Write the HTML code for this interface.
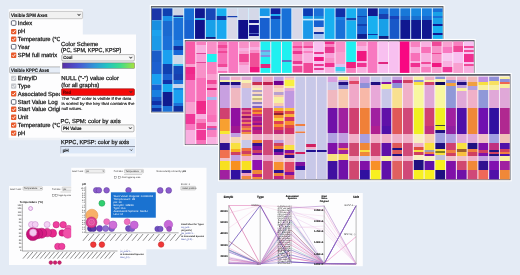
<!DOCTYPE html><html><head><meta charset="utf-8"><style>html,body{margin:0;padding:0;background:#e4ebf5;width:520px;height:275px;overflow:hidden;}svg{display:block;will-change:transform}</style></head><body>
<svg width="520" height="275" viewBox="0 0 520 275" font-family="'Liberation Sans', sans-serif" text-rendering="geometricPrecision">
<rect x="0" y="0" width="520" height="275" fill="#e4ebf5"/>
<rect x="149.80" y="4.90" width="294.80" height="108.70" fill="#ffffff"/>
<rect x="150.95" y="6.00" width="292.50" height="106.45" fill="#62666f"/>
<rect x="151.80" y="7.45" width="290.80" height="104.15" fill="#d4eefc"/>
<rect x="151.80" y="8.35" width="9.81" height="11.95" fill="#1a35a8"/>
<rect x="151.80" y="20.30" width="9.81" height="9.70" fill="#1a8fe0"/>
<rect x="151.80" y="30.00" width="9.81" height="6.00" fill="#1aa2ee"/>
<rect x="151.80" y="36.00" width="9.81" height="14.50" fill="#1a9ae8"/>
<rect x="151.80" y="50.50" width="9.81" height="11.50" fill="#1a5cc8"/>
<rect x="151.80" y="62.00" width="9.81" height="12.00" fill="#1c60d0"/>
<rect x="151.80" y="74.00" width="9.81" height="10.50" fill="#1aa0f0"/>
<rect x="151.80" y="84.50" width="9.81" height="5.50" fill="#1860d0"/>
<rect x="151.80" y="90.00" width="9.81" height="7.00" fill="#1a80e0"/>
<rect x="151.80" y="97.00" width="9.81" height="4.00" fill="#1858c8"/>
<rect x="151.80" y="101.00" width="9.81" height="4.00" fill="#1030a8"/>
<rect x="151.80" y="105.00" width="9.81" height="3.00" fill="#2070d8"/>
<rect x="151.80" y="108.00" width="9.81" height="3.60" fill="#1030a0"/>
<rect x="162.61" y="8.35" width="9.81" height="7.65" fill="#1040b0"/>
<rect x="162.61" y="16.00" width="9.81" height="5.00" fill="#1a90e8"/>
<rect x="162.61" y="21.00" width="9.81" height="15.00" fill="#1a6ad0"/>
<rect x="162.61" y="36.00" width="9.81" height="14.00" fill="#1a70d8"/>
<rect x="162.61" y="50.00" width="9.81" height="14.00" fill="#1aa0f0"/>
<rect x="162.61" y="64.00" width="9.81" height="10.00" fill="#1040b0"/>
<rect x="162.61" y="74.00" width="9.81" height="6.00" fill="#1a60d0"/>
<rect x="162.61" y="80.00" width="9.81" height="4.00" fill="#1030a8"/>
<rect x="162.61" y="84.00" width="9.81" height="8.00" fill="#18a8f0"/>
<rect x="162.61" y="92.00" width="9.81" height="14.00" fill="#101c90"/>
<rect x="162.61" y="106.00" width="9.81" height="5.60" fill="#1a70d8"/>
<rect x="173.41" y="8.35" width="9.81" height="7.05" fill="#d0d4e4"/>
<rect x="173.41" y="15.40" width="9.81" height="1.60" fill="#102a90"/>
<rect x="173.41" y="17.00" width="9.81" height="1.00" fill="#40c0f0"/>
<rect x="173.41" y="18.00" width="9.81" height="22.00" fill="#1a70d8"/>
<rect x="173.41" y="40.00" width="9.81" height="6.00" fill="#2080e0"/>
<rect x="173.41" y="46.00" width="9.81" height="4.00" fill="#1030a0"/>
<rect x="173.41" y="50.00" width="9.81" height="5.00" fill="#1868d8"/>
<rect x="173.41" y="55.00" width="9.81" height="9.00" fill="#d0d8e8"/>
<rect x="173.41" y="64.00" width="9.81" height="2.00" fill="#40c0f0"/>
<rect x="173.41" y="66.00" width="9.81" height="8.00" fill="#1448b8"/>
<rect x="173.41" y="74.00" width="9.81" height="6.00" fill="#1840b0"/>
<rect x="173.41" y="80.00" width="9.81" height="4.00" fill="#1a70d8"/>
<rect x="173.41" y="84.00" width="9.81" height="4.00" fill="#c8d4ec"/>
<rect x="173.41" y="88.00" width="9.81" height="2.00" fill="#1a80e0"/>
<rect x="173.41" y="90.00" width="9.81" height="13.00" fill="#1aa0f0"/>
<rect x="173.41" y="103.00" width="9.81" height="3.00" fill="#1a70d8"/>
<rect x="173.41" y="106.00" width="9.81" height="5.60" fill="#1030a0"/>
<rect x="184.22" y="8.35" width="9.81" height="11.65" fill="#1870d8"/>
<rect x="184.22" y="20.00" width="9.81" height="91.60" fill="#1862d0"/>
<rect x="195.03" y="8.35" width="9.81" height="9.95" fill="#101890"/>
<rect x="195.03" y="18.30" width="9.81" height="1.70" fill="#20b8f0"/>
<rect x="195.03" y="20.00" width="9.81" height="91.60" fill="#10128a"/>
<rect x="205.84" y="8.35" width="9.81" height="11.65" fill="#1848b8"/>
<rect x="205.84" y="20.00" width="9.81" height="17.00" fill="#18a0e8"/>
<rect x="205.84" y="37.00" width="9.81" height="74.60" fill="#102080"/>
<rect x="216.64" y="8.35" width="9.81" height="7.65" fill="#18b0f0"/>
<rect x="216.64" y="16.00" width="9.81" height="4.00" fill="#1030a0"/>
<rect x="216.64" y="20.00" width="9.81" height="91.60" fill="#18a8f0"/>
<rect x="227.45" y="8.35" width="9.81" height="7.65" fill="#d4d8e8"/>
<rect x="227.45" y="16.00" width="9.81" height="1.50" fill="#1840b0"/>
<rect x="227.45" y="17.50" width="9.81" height="94.10" fill="#d8d8e8"/>
<rect x="238.26" y="8.35" width="9.81" height="11.65" fill="#d4d8e8"/>
<rect x="238.26" y="20.00" width="9.81" height="91.60" fill="#10108a"/>
<rect x="249.07" y="8.35" width="9.81" height="11.65" fill="#d4d8e8"/>
<rect x="249.07" y="20.00" width="9.81" height="3.00" fill="#10108a"/>
<rect x="249.07" y="23.00" width="9.81" height="2.00" fill="#e0e0f0"/>
<rect x="249.07" y="25.00" width="9.81" height="8.00" fill="#10108a"/>
<rect x="249.07" y="33.00" width="9.81" height="1.00" fill="#5060c0"/>
<rect x="249.07" y="34.00" width="9.81" height="2.00" fill="#10108a"/>
<rect x="249.07" y="36.00" width="9.81" height="75.60" fill="#d4d8e8"/>
<rect x="259.87" y="8.35" width="9.81" height="7.65" fill="#1898e8"/>
<rect x="259.87" y="16.00" width="9.81" height="2.00" fill="#d8e8f8"/>
<rect x="259.87" y="18.00" width="9.81" height="93.60" fill="#1860d0"/>
<rect x="270.68" y="8.35" width="9.81" height="5.65" fill="#1020a0"/>
<rect x="270.68" y="14.00" width="9.81" height="2.00" fill="#20b0f0"/>
<rect x="270.68" y="16.00" width="9.81" height="3.00" fill="#1030a8"/>
<rect x="270.68" y="19.00" width="9.81" height="92.60" fill="#1870d8"/>
<rect x="281.49" y="8.35" width="9.81" height="103.25" fill="#1870d8"/>
<rect x="292.30" y="8.35" width="9.81" height="103.25" fill="#d8d8e8"/>
<rect x="303.10" y="8.35" width="9.81" height="7.65" fill="#0c3cb4"/>
<rect x="303.10" y="16.00" width="9.81" height="2.90" fill="#18a0e8"/>
<rect x="303.10" y="18.90" width="9.81" height="1.50" fill="#c8ecfa"/>
<rect x="303.10" y="20.40" width="9.81" height="91.20" fill="#1a98e8"/>
<rect x="313.91" y="8.35" width="9.81" height="7.65" fill="#1a70d8"/>
<rect x="313.91" y="16.00" width="9.81" height="2.90" fill="#1890e0"/>
<rect x="313.91" y="18.90" width="9.81" height="1.50" fill="#c8ecfa"/>
<rect x="313.91" y="20.40" width="9.81" height="6.60" fill="#1860d0"/>
<rect x="313.91" y="27.00" width="9.81" height="5.00" fill="#e0d8e8"/>
<rect x="313.91" y="32.00" width="9.81" height="2.00" fill="#1030a0"/>
<rect x="313.91" y="34.00" width="9.81" height="77.60" fill="#a0c0f0"/>
<rect x="324.72" y="8.35" width="9.81" height="103.25" fill="#18b0f0"/>
<rect x="335.53" y="8.35" width="9.81" height="8.65" fill="#1030a8"/>
<rect x="335.53" y="17.00" width="9.81" height="3.00" fill="#1880e0"/>
<rect x="335.53" y="20.00" width="9.81" height="91.60" fill="#1870d8"/>
<rect x="346.33" y="8.35" width="9.81" height="9.65" fill="#18b0f0"/>
<rect x="346.33" y="18.00" width="9.81" height="2.50" fill="#1840a8"/>
<rect x="346.33" y="20.50" width="9.81" height="91.10" fill="#18b0f0"/>
<rect x="357.14" y="8.35" width="9.81" height="7.65" fill="#1878d8"/>
<rect x="357.14" y="16.00" width="9.81" height="1.00" fill="#1040b0"/>
<rect x="357.14" y="17.00" width="9.81" height="7.00" fill="#1868d0"/>
<rect x="357.14" y="24.00" width="9.81" height="2.00" fill="#1040b0"/>
<rect x="357.14" y="26.00" width="9.81" height="8.00" fill="#1860d0"/>
<rect x="357.14" y="34.00" width="9.81" height="77.60" fill="#102090"/>
<rect x="367.95" y="8.35" width="9.81" height="7.65" fill="#101890"/>
<rect x="367.95" y="16.00" width="9.81" height="18.00" fill="#18b0f0"/>
<rect x="367.95" y="34.00" width="9.81" height="1.00" fill="#1030a0"/>
<rect x="367.95" y="35.00" width="9.81" height="76.60" fill="#18b0f0"/>
<rect x="378.76" y="8.35" width="9.81" height="5.65" fill="#1870d8"/>
<rect x="378.76" y="14.00" width="9.81" height="5.00" fill="#1840b0"/>
<rect x="378.76" y="19.00" width="9.81" height="17.00" fill="#18a0e8"/>
<rect x="378.76" y="36.00" width="9.81" height="75.60" fill="#102080"/>
<rect x="389.56" y="8.35" width="9.81" height="7.65" fill="#1870d8"/>
<rect x="389.56" y="16.00" width="9.81" height="3.00" fill="#1840b8"/>
<rect x="389.56" y="19.00" width="9.81" height="92.60" fill="#1858c8"/>
<rect x="400.37" y="8.35" width="9.81" height="7.65" fill="#1878d8"/>
<rect x="400.37" y="16.00" width="9.81" height="4.00" fill="#1860c8"/>
<rect x="400.37" y="20.00" width="9.81" height="91.60" fill="#101890"/>
<rect x="411.18" y="8.35" width="9.81" height="7.65" fill="#1888e0"/>
<rect x="411.18" y="16.00" width="9.81" height="4.00" fill="#1870d0"/>
<rect x="411.18" y="20.00" width="9.81" height="91.60" fill="#101890"/>
<rect x="421.99" y="8.35" width="9.81" height="7.65" fill="#1880e0"/>
<rect x="421.99" y="16.00" width="9.81" height="4.00" fill="#1868d0"/>
<rect x="421.99" y="20.00" width="9.81" height="91.60" fill="#101890"/>
<rect x="432.79" y="8.35" width="9.81" height="3.65" fill="#1870d8"/>
<rect x="432.79" y="12.00" width="9.81" height="4.00" fill="#18a0e8"/>
<rect x="432.79" y="16.00" width="9.81" height="2.00" fill="#1870d8"/>
<rect x="432.79" y="18.00" width="9.81" height="6.00" fill="#18a0e8"/>
<rect x="432.79" y="24.00" width="9.81" height="2.00" fill="#101890"/>
<rect x="432.79" y="26.00" width="9.81" height="7.00" fill="#18b0f0"/>
<rect x="432.79" y="33.00" width="9.81" height="2.00" fill="#101890"/>
<rect x="432.79" y="35.00" width="9.81" height="76.60" fill="#18b0f0"/>
<rect x="183.60" y="38.90" width="292.10" height="107.30" fill="#ffffff"/>
<rect x="184.75" y="40.00" width="289.80" height="105.05" fill="#62666f"/>
<rect x="185.60" y="41.50" width="288.10" height="102.70" fill="#fde6f8"/>
<rect x="185.60" y="41.50" width="9.71" height="22.50" fill="#f85aa8"/>
<rect x="185.60" y="64.00" width="9.71" height="3.00" fill="#f8a0d0"/>
<rect x="185.60" y="67.00" width="9.71" height="7.00" fill="#f0288a"/>
<rect x="185.60" y="74.00" width="9.71" height="6.00" fill="#f03090"/>
<rect x="185.60" y="80.00" width="9.71" height="22.00" fill="#f878c0"/>
<rect x="185.60" y="102.00" width="9.71" height="12.00" fill="#f8a0d0"/>
<rect x="185.60" y="114.00" width="9.71" height="10.00" fill="#f03898"/>
<rect x="185.60" y="124.00" width="9.71" height="6.00" fill="#f878c0"/>
<rect x="185.60" y="130.00" width="9.71" height="14.20" fill="#f8b0e0"/>
<rect x="196.31" y="41.50" width="9.71" height="3.50" fill="#f880c0"/>
<rect x="196.31" y="45.00" width="9.71" height="8.00" fill="#f8b0e0"/>
<rect x="196.31" y="53.00" width="9.71" height="1.00" fill="#e04898"/>
<rect x="196.31" y="54.00" width="9.71" height="8.00" fill="#f8a0d8"/>
<rect x="196.31" y="62.00" width="9.71" height="1.00" fill="#e04898"/>
<rect x="196.31" y="63.00" width="9.71" height="15.00" fill="#f890c8"/>
<rect x="196.31" y="78.00" width="9.71" height="23.00" fill="#f870b8"/>
<rect x="196.31" y="101.00" width="9.71" height="9.00" fill="#f02888"/>
<rect x="196.31" y="110.00" width="9.71" height="4.00" fill="#f03090"/>
<rect x="196.31" y="114.00" width="9.71" height="5.00" fill="#f8b0e0"/>
<rect x="196.31" y="119.00" width="9.71" height="4.00" fill="#f880c0"/>
<rect x="196.31" y="123.00" width="9.71" height="6.00" fill="#f04898"/>
<rect x="196.31" y="129.00" width="9.71" height="1.00" fill="#f8b0e0"/>
<rect x="196.31" y="130.00" width="9.71" height="10.00" fill="#f03898"/>
<rect x="196.31" y="140.00" width="9.71" height="4.20" fill="#f870b8"/>
<rect x="207.01" y="41.50" width="9.71" height="12.50" fill="#f890c8"/>
<rect x="207.01" y="54.00" width="9.71" height="8.00" fill="#20f0f0"/>
<rect x="207.01" y="62.00" width="9.71" height="12.00" fill="#f880c0"/>
<rect x="207.01" y="74.00" width="9.71" height="6.00" fill="#f8a0d0"/>
<rect x="207.01" y="80.00" width="9.71" height="4.00" fill="#f04898"/>
<rect x="207.01" y="84.00" width="9.71" height="4.00" fill="#f890c8"/>
<rect x="207.01" y="88.00" width="9.71" height="2.00" fill="#e02080"/>
<rect x="207.01" y="90.00" width="9.71" height="7.00" fill="#f890c8"/>
<rect x="207.01" y="97.00" width="9.71" height="3.00" fill="#a0c0f0"/>
<rect x="207.01" y="100.00" width="9.71" height="15.00" fill="#f880c0"/>
<rect x="207.01" y="115.00" width="9.71" height="7.00" fill="#f870b8"/>
<rect x="207.01" y="122.00" width="9.71" height="4.00" fill="#f8b0e0"/>
<rect x="207.01" y="126.00" width="9.71" height="2.00" fill="#f04898"/>
<rect x="207.01" y="128.00" width="9.71" height="2.00" fill="#a070c8"/>
<rect x="207.01" y="130.00" width="9.71" height="7.00" fill="#f880c0"/>
<rect x="207.01" y="137.00" width="9.71" height="7.20" fill="#f8b0e0"/>
<rect x="217.72" y="41.50" width="9.71" height="3.50" fill="#f870b8"/>
<rect x="217.72" y="45.00" width="9.71" height="3.00" fill="#f04898"/>
<rect x="217.72" y="48.00" width="9.71" height="3.00" fill="#f870b8"/>
<rect x="217.72" y="51.00" width="9.71" height="2.00" fill="#f04898"/>
<rect x="217.72" y="53.00" width="9.71" height="11.00" fill="#f870b8"/>
<rect x="217.72" y="64.00" width="9.71" height="3.00" fill="#f04898"/>
<rect x="217.72" y="67.00" width="9.71" height="4.00" fill="#f8b0e0"/>
<rect x="217.72" y="71.00" width="9.71" height="73.20" fill="#f870b8"/>
<rect x="228.43" y="41.50" width="9.71" height="102.70" fill="#f878c0"/>
<rect x="239.14" y="41.50" width="9.71" height="6.50" fill="#f890c8"/>
<rect x="239.14" y="48.00" width="9.71" height="3.00" fill="#f8b0e0"/>
<rect x="239.14" y="51.00" width="9.71" height="3.00" fill="#f8a0d0"/>
<rect x="239.14" y="54.00" width="9.71" height="8.00" fill="#f04898"/>
<rect x="239.14" y="62.00" width="9.71" height="3.00" fill="#f890c8"/>
<rect x="239.14" y="65.00" width="9.71" height="79.20" fill="#f8b0e0"/>
<rect x="249.84" y="41.50" width="9.71" height="5.50" fill="#f890c8"/>
<rect x="249.84" y="47.00" width="9.71" height="3.00" fill="#f8b0e0"/>
<rect x="249.84" y="50.00" width="9.71" height="3.00" fill="#f890c8"/>
<rect x="249.84" y="53.00" width="9.71" height="14.00" fill="#f05098"/>
<rect x="249.84" y="67.00" width="9.71" height="5.00" fill="#f01880"/>
<rect x="249.84" y="72.00" width="9.71" height="72.20" fill="#f890c8"/>
<rect x="260.55" y="41.50" width="9.71" height="8.50" fill="#20f0f0"/>
<rect x="260.55" y="50.00" width="9.71" height="2.00" fill="#8090e0"/>
<rect x="260.55" y="52.00" width="9.71" height="3.00" fill="#60c8f0"/>
<rect x="260.55" y="55.00" width="9.71" height="2.00" fill="#8090e0"/>
<rect x="260.55" y="57.00" width="9.71" height="7.00" fill="#20f0f0"/>
<rect x="260.55" y="64.00" width="9.71" height="4.00" fill="#e02880"/>
<rect x="260.55" y="68.00" width="9.71" height="76.20" fill="#20f0f0"/>
<rect x="271.26" y="41.50" width="9.71" height="102.70" fill="#20f0f0"/>
<rect x="281.97" y="41.50" width="9.71" height="18.50" fill="#20f0f0"/>
<rect x="281.97" y="60.00" width="9.71" height="2.00" fill="#6070c0"/>
<rect x="281.97" y="62.00" width="9.71" height="82.20" fill="#20f0f0"/>
<rect x="292.67" y="41.50" width="9.71" height="4.50" fill="#f880c0"/>
<rect x="292.67" y="46.00" width="9.71" height="2.00" fill="#f04898"/>
<rect x="292.67" y="48.00" width="9.71" height="3.00" fill="#f880c0"/>
<rect x="292.67" y="51.00" width="9.71" height="3.00" fill="#e83890"/>
<rect x="292.67" y="54.00" width="9.71" height="7.00" fill="#f890c8"/>
<rect x="292.67" y="61.00" width="9.71" height="3.00" fill="#e83890"/>
<rect x="292.67" y="64.00" width="9.71" height="2.00" fill="#f8b0e0"/>
<rect x="292.67" y="66.00" width="9.71" height="6.00" fill="#f04898"/>
<rect x="292.67" y="72.00" width="9.71" height="72.20" fill="#f890c8"/>
<rect x="303.38" y="41.50" width="9.71" height="4.50" fill="#f880c0"/>
<rect x="303.38" y="46.00" width="9.71" height="2.00" fill="#f04898"/>
<rect x="303.38" y="48.00" width="9.71" height="3.00" fill="#f8b0e0"/>
<rect x="303.38" y="51.00" width="9.71" height="2.00" fill="#f880c0"/>
<rect x="303.38" y="53.00" width="9.71" height="10.00" fill="#f8b0e0"/>
<rect x="303.38" y="63.00" width="9.71" height="81.20" fill="#f04898"/>
<rect x="314.09" y="41.50" width="9.71" height="10.50" fill="#f8c0f0"/>
<rect x="314.09" y="52.00" width="9.71" height="2.00" fill="#e83890"/>
<rect x="314.09" y="54.00" width="9.71" height="3.00" fill="#f8c0f0"/>
<rect x="314.09" y="57.00" width="9.71" height="4.00" fill="#f01880"/>
<rect x="314.09" y="61.00" width="9.71" height="3.00" fill="#f8c0f0"/>
<rect x="314.09" y="64.00" width="9.71" height="2.00" fill="#e83890"/>
<rect x="314.09" y="66.00" width="9.71" height="2.00" fill="#f8c0f0"/>
<rect x="314.09" y="68.00" width="9.71" height="2.00" fill="#e83890"/>
<rect x="314.09" y="70.00" width="9.71" height="74.20" fill="#f8c0f0"/>
<rect x="324.80" y="41.50" width="9.71" height="2.50" fill="#f03090"/>
<rect x="324.80" y="44.00" width="9.71" height="3.00" fill="#f880c0"/>
<rect x="324.80" y="47.00" width="9.71" height="6.00" fill="#e83890"/>
<rect x="324.80" y="53.00" width="9.71" height="5.00" fill="#f8a0d8"/>
<rect x="324.80" y="58.00" width="9.71" height="5.00" fill="#f890c8"/>
<rect x="324.80" y="63.00" width="9.71" height="4.00" fill="#f03090"/>
<rect x="324.80" y="67.00" width="9.71" height="77.20" fill="#f8b0e0"/>
<rect x="335.50" y="41.50" width="9.71" height="10.50" fill="#f890c8"/>
<rect x="335.50" y="52.00" width="9.71" height="12.00" fill="#f8a0d0"/>
<rect x="335.50" y="64.00" width="9.71" height="3.00" fill="#e0c0f0"/>
<rect x="335.50" y="67.00" width="9.71" height="4.00" fill="#40d0f0"/>
<rect x="335.50" y="71.00" width="9.71" height="73.20" fill="#a0d0f0"/>
<rect x="346.21" y="41.50" width="9.71" height="20.50" fill="#20f0f0"/>
<rect x="346.21" y="62.00" width="9.71" height="6.00" fill="#f02080"/>
<rect x="346.21" y="68.00" width="9.71" height="76.20" fill="#f880c0"/>
<rect x="356.92" y="41.50" width="9.71" height="4.50" fill="#f890c8"/>
<rect x="356.92" y="46.00" width="9.71" height="5.00" fill="#f8b0e0"/>
<rect x="356.92" y="51.00" width="9.71" height="10.00" fill="#f01880"/>
<rect x="356.92" y="61.00" width="9.71" height="2.00" fill="#f8b0e0"/>
<rect x="356.92" y="63.00" width="9.71" height="4.00" fill="#f03090"/>
<rect x="356.92" y="67.00" width="9.71" height="77.20" fill="#f8b0e0"/>
<rect x="367.63" y="41.50" width="9.71" height="102.70" fill="#f878c0"/>
<rect x="378.33" y="41.50" width="9.71" height="20.50" fill="#f8c0f0"/>
<rect x="378.33" y="62.00" width="9.71" height="2.00" fill="#e02880"/>
<rect x="378.33" y="64.00" width="9.71" height="80.20" fill="#f8c0f0"/>
<rect x="389.04" y="41.50" width="9.71" height="102.70" fill="#f8c0f0"/>
<rect x="399.75" y="41.50" width="9.71" height="102.70" fill="#f80882"/>
<rect x="410.46" y="41.50" width="9.71" height="5.50" fill="#f880c0"/>
<rect x="410.46" y="47.00" width="9.71" height="6.00" fill="#f8b0e0"/>
<rect x="410.46" y="53.00" width="9.71" height="8.00" fill="#f870b8"/>
<rect x="410.46" y="61.00" width="9.71" height="2.00" fill="#f8b0e0"/>
<rect x="410.46" y="63.00" width="9.71" height="4.00" fill="#f03090"/>
<rect x="410.46" y="67.00" width="9.71" height="77.20" fill="#f8a0d0"/>
<rect x="421.16" y="41.50" width="9.71" height="5.50" fill="#f8b0e0"/>
<rect x="421.16" y="47.00" width="9.71" height="6.00" fill="#f870b8"/>
<rect x="421.16" y="53.00" width="9.71" height="9.00" fill="#f8b0e0"/>
<rect x="421.16" y="62.00" width="9.71" height="2.00" fill="#f04898"/>
<rect x="421.16" y="64.00" width="9.71" height="3.00" fill="#f8b0e0"/>
<rect x="421.16" y="67.00" width="9.71" height="5.00" fill="#f880c0"/>
<rect x="421.16" y="72.00" width="9.71" height="72.20" fill="#f8b0e0"/>
<rect x="431.87" y="41.50" width="9.71" height="4.50" fill="#f04898"/>
<rect x="431.87" y="46.00" width="9.71" height="7.00" fill="#f890c8"/>
<rect x="431.87" y="53.00" width="9.71" height="1.00" fill="#f04898"/>
<rect x="431.87" y="54.00" width="9.71" height="9.00" fill="#f890c8"/>
<rect x="431.87" y="63.00" width="9.71" height="4.00" fill="#f01880"/>
<rect x="431.87" y="67.00" width="9.71" height="77.20" fill="#f8a0d0"/>
<rect x="442.58" y="41.50" width="9.71" height="5.50" fill="#f8a0d0"/>
<rect x="442.58" y="47.00" width="9.71" height="6.00" fill="#f878c0"/>
<rect x="442.58" y="53.00" width="9.71" height="8.00" fill="#f8c8f0"/>
<rect x="442.58" y="61.00" width="9.71" height="6.00" fill="#f8b0e0"/>
<rect x="442.58" y="67.00" width="9.71" height="5.00" fill="#f03898"/>
<rect x="442.58" y="72.00" width="9.71" height="72.20" fill="#f8b0e0"/>
<rect x="453.29" y="41.50" width="9.71" height="4.50" fill="#f880c0"/>
<rect x="453.29" y="46.00" width="9.71" height="6.00" fill="#f04898"/>
<rect x="453.29" y="52.00" width="9.71" height="11.00" fill="#f8c0f0"/>
<rect x="453.29" y="63.00" width="9.71" height="81.20" fill="#f8a0d0"/>
<rect x="463.99" y="41.50" width="9.71" height="4.50" fill="#f8c0f0"/>
<rect x="463.99" y="46.00" width="9.71" height="2.00" fill="#f04898"/>
<rect x="463.99" y="48.00" width="9.71" height="2.00" fill="#f8c0f0"/>
<rect x="463.99" y="50.00" width="9.71" height="2.00" fill="#f04898"/>
<rect x="463.99" y="52.00" width="9.71" height="2.00" fill="#f8c0f0"/>
<rect x="463.99" y="54.00" width="9.71" height="8.00" fill="#f03090"/>
<rect x="463.99" y="62.00" width="9.71" height="2.00" fill="#f8c0f0"/>
<rect x="463.99" y="64.00" width="9.71" height="2.00" fill="#f04898"/>
<rect x="463.99" y="66.00" width="9.71" height="78.20" fill="#f8b0e0"/>
<rect x="218.00" y="72.90" width="293.70" height="108.40" fill="#ffffff"/>
<rect x="219.15" y="74.00" width="291.40" height="106.15" fill="#62666f"/>
<rect x="220.00" y="75.80" width="289.70" height="103.50" fill="#f8eef6"/>
<rect x="220.00" y="76.70" width="9.77" height="3.30" fill="#c8a0e0"/>
<rect x="220.00" y="80.00" width="9.77" height="2.00" fill="#f8f0a0"/>
<rect x="220.00" y="82.00" width="9.77" height="3.00" fill="#201080"/>
<rect x="220.00" y="85.00" width="9.77" height="23.00" fill="#c8a0e0"/>
<rect x="220.00" y="108.00" width="9.77" height="11.00" fill="#d04070"/>
<rect x="220.00" y="119.00" width="9.77" height="12.00" fill="#f8a030"/>
<rect x="220.00" y="131.00" width="9.77" height="3.00" fill="#f8e830"/>
<rect x="220.00" y="134.00" width="9.77" height="9.00" fill="#f0c0c8"/>
<rect x="220.00" y="143.00" width="9.77" height="7.00" fill="#301090"/>
<rect x="220.00" y="150.00" width="9.77" height="8.00" fill="#f07050"/>
<rect x="220.00" y="158.00" width="9.77" height="3.00" fill="#f0c0c8"/>
<rect x="220.00" y="161.00" width="9.77" height="9.00" fill="#f8e020"/>
<rect x="220.00" y="170.00" width="9.77" height="9.30" fill="#a020a0"/>
<rect x="230.77" y="76.70" width="9.77" height="3.30" fill="#f0b0c8"/>
<rect x="230.77" y="80.00" width="9.77" height="2.00" fill="#f8f0a0"/>
<rect x="230.77" y="82.00" width="9.77" height="3.00" fill="#201080"/>
<rect x="230.77" y="85.00" width="9.77" height="3.00" fill="#b8a0e0"/>
<rect x="230.77" y="88.00" width="9.77" height="20.00" fill="#f0b8c0"/>
<rect x="230.77" y="108.00" width="9.77" height="18.00" fill="#9010a0"/>
<rect x="230.77" y="126.00" width="9.77" height="7.00" fill="#a01890"/>
<rect x="230.77" y="133.00" width="9.77" height="4.00" fill="#c0a0e0"/>
<rect x="230.77" y="137.00" width="9.77" height="6.00" fill="#f8d8b0"/>
<rect x="230.77" y="143.00" width="9.77" height="6.00" fill="#f8e040"/>
<rect x="230.77" y="149.00" width="9.77" height="3.00" fill="#f8b020"/>
<rect x="230.77" y="152.00" width="9.77" height="3.00" fill="#d04060"/>
<rect x="230.77" y="155.00" width="9.77" height="6.00" fill="#c0a0e0"/>
<rect x="230.77" y="161.00" width="9.77" height="9.00" fill="#f89020"/>
<rect x="230.77" y="170.00" width="9.77" height="9.30" fill="#3010a0"/>
<rect x="241.53" y="76.70" width="9.77" height="3.30" fill="#e0a8d8"/>
<rect x="241.53" y="80.00" width="9.77" height="3.00" fill="#f8f0b0"/>
<rect x="241.53" y="83.00" width="9.77" height="5.00" fill="#f0c0b0"/>
<rect x="241.53" y="88.00" width="9.77" height="20.00" fill="#c8c0e8"/>
<rect x="241.53" y="108.00" width="9.77" height="2.00" fill="#c02878"/>
<rect x="241.53" y="110.00" width="9.77" height="2.00" fill="#e06080"/>
<rect x="241.53" y="112.00" width="9.77" height="2.00" fill="#c02878"/>
<rect x="241.53" y="114.00" width="9.77" height="2.00" fill="#e87070"/>
<rect x="241.53" y="116.00" width="9.77" height="2.00" fill="#901070"/>
<rect x="241.53" y="118.00" width="9.77" height="2.00" fill="#e06080"/>
<rect x="241.53" y="120.00" width="9.77" height="2.00" fill="#c02878"/>
<rect x="241.53" y="122.00" width="9.77" height="2.00" fill="#f08060"/>
<rect x="241.53" y="124.00" width="9.77" height="2.00" fill="#c02878"/>
<rect x="241.53" y="126.00" width="9.77" height="2.00" fill="#e86058"/>
<rect x="241.53" y="128.00" width="9.77" height="2.00" fill="#f09040"/>
<rect x="241.53" y="130.00" width="9.77" height="2.00" fill="#d04070"/>
<rect x="241.53" y="132.00" width="9.77" height="2.00" fill="#f09040"/>
<rect x="241.53" y="134.00" width="9.77" height="6.00" fill="#f8d0c0"/>
<rect x="241.53" y="140.00" width="9.77" height="8.00" fill="#c8c8e8"/>
<rect x="241.53" y="148.00" width="9.77" height="3.00" fill="#f07040"/>
<rect x="241.53" y="151.00" width="9.77" height="3.00" fill="#d04060"/>
<rect x="241.53" y="154.00" width="9.77" height="2.00" fill="#f09040"/>
<rect x="241.53" y="156.00" width="9.77" height="5.00" fill="#f0b0c8"/>
<rect x="241.53" y="161.00" width="9.77" height="9.00" fill="#f8e020"/>
<rect x="241.53" y="170.00" width="9.77" height="3.00" fill="#301090"/>
<rect x="241.53" y="173.00" width="9.77" height="3.00" fill="#f0a0c0"/>
<rect x="241.53" y="176.00" width="9.77" height="3.30" fill="#f08840"/>
<rect x="252.30" y="76.70" width="9.77" height="5.30" fill="#c8a0e0"/>
<rect x="252.30" y="82.00" width="9.77" height="3.30" fill="#c83050"/>
<rect x="252.30" y="85.30" width="9.77" height="2.70" fill="#f8d8c0"/>
<rect x="252.30" y="88.00" width="9.77" height="2.00" fill="#f8f0b0"/>
<rect x="252.30" y="90.00" width="9.77" height="2.00" fill="#b0a0c8"/>
<rect x="252.30" y="92.00" width="9.77" height="2.00" fill="#f8d8c0"/>
<rect x="252.30" y="94.00" width="9.77" height="2.00" fill="#a898b8"/>
<rect x="252.30" y="96.00" width="9.77" height="2.00" fill="#f8f0b0"/>
<rect x="252.30" y="98.00" width="9.77" height="2.00" fill="#c8c080"/>
<rect x="252.30" y="100.00" width="9.77" height="2.00" fill="#f8d8c0"/>
<rect x="252.30" y="102.00" width="9.77" height="2.00" fill="#9080c0"/>
<rect x="252.30" y="104.00" width="9.77" height="2.00" fill="#e0c8e8"/>
<rect x="252.30" y="106.00" width="9.77" height="2.00" fill="#8060c0"/>
<rect x="252.30" y="108.00" width="9.77" height="2.00" fill="#f8a030"/>
<rect x="252.30" y="110.00" width="9.77" height="2.00" fill="#e05040"/>
<rect x="252.30" y="112.00" width="9.77" height="2.00" fill="#f89030"/>
<rect x="252.30" y="114.00" width="9.77" height="2.50" fill="#d02878"/>
<rect x="252.30" y="116.50" width="9.77" height="4.50" fill="#a01890"/>
<rect x="252.30" y="121.00" width="9.77" height="2.00" fill="#c02080"/>
<rect x="252.30" y="123.00" width="9.77" height="2.00" fill="#901090"/>
<rect x="252.30" y="125.00" width="9.77" height="2.00" fill="#e05060"/>
<rect x="252.30" y="127.00" width="9.77" height="3.00" fill="#a01890"/>
<rect x="252.30" y="130.00" width="9.77" height="4.00" fill="#c02080"/>
<rect x="252.30" y="134.00" width="9.77" height="6.00" fill="#f0b0c8"/>
<rect x="252.30" y="140.00" width="9.77" height="3.00" fill="#f08030"/>
<rect x="252.30" y="143.00" width="9.77" height="3.00" fill="#301090"/>
<rect x="252.30" y="146.00" width="9.77" height="4.00" fill="#8010a0"/>
<rect x="252.30" y="150.00" width="9.77" height="3.00" fill="#d04060"/>
<rect x="252.30" y="153.00" width="9.77" height="2.00" fill="#8010a0"/>
<rect x="252.30" y="155.00" width="9.77" height="5.00" fill="#e0a8d8"/>
<rect x="252.30" y="160.00" width="9.77" height="10.00" fill="#9010b0"/>
<rect x="252.30" y="170.00" width="9.77" height="4.00" fill="#f08838"/>
<rect x="252.30" y="174.00" width="9.77" height="3.00" fill="#c02080"/>
<rect x="252.30" y="177.00" width="9.77" height="2.30" fill="#f08838"/>
<rect x="263.07" y="76.70" width="9.77" height="5.30" fill="#f0a8c0"/>
<rect x="263.07" y="82.00" width="9.77" height="3.00" fill="#c02050"/>
<rect x="263.07" y="85.00" width="9.77" height="23.00" fill="#f0b0c8"/>
<rect x="263.07" y="108.00" width="9.77" height="26.00" fill="#d04878"/>
<rect x="263.07" y="134.00" width="9.77" height="6.00" fill="#f0b0c8"/>
<rect x="263.07" y="140.00" width="9.77" height="15.00" fill="#d04878"/>
<rect x="263.07" y="155.00" width="9.77" height="6.00" fill="#e8a0c8"/>
<rect x="263.07" y="161.00" width="9.77" height="18.30" fill="#d04878"/>
<rect x="273.83" y="76.70" width="9.77" height="4.30" fill="#c0a0e0"/>
<rect x="273.83" y="81.00" width="9.77" height="4.00" fill="#700090"/>
<rect x="273.83" y="85.00" width="9.77" height="3.00" fill="#f8c0b0"/>
<rect x="273.83" y="88.00" width="9.77" height="4.00" fill="#f8d8c0"/>
<rect x="273.83" y="92.00" width="9.77" height="3.00" fill="#b8a0d0"/>
<rect x="273.83" y="95.00" width="9.77" height="2.00" fill="#f8c8b0"/>
<rect x="273.83" y="97.00" width="9.77" height="6.00" fill="#f8f0a0"/>
<rect x="273.83" y="103.00" width="9.77" height="3.00" fill="#f8c8b0"/>
<rect x="273.83" y="106.00" width="9.77" height="2.00" fill="#c0a0e0"/>
<rect x="273.83" y="108.00" width="9.77" height="3.00" fill="#f8b030"/>
<rect x="273.83" y="111.00" width="9.77" height="2.00" fill="#e04040"/>
<rect x="273.83" y="113.00" width="9.77" height="2.00" fill="#902030"/>
<rect x="273.83" y="115.00" width="9.77" height="3.00" fill="#f89030"/>
<rect x="273.83" y="118.00" width="9.77" height="3.00" fill="#f8d040"/>
<rect x="273.83" y="121.00" width="9.77" height="3.00" fill="#e04050"/>
<rect x="273.83" y="124.00" width="9.77" height="3.00" fill="#f89030"/>
<rect x="273.83" y="127.00" width="9.77" height="3.00" fill="#e04050"/>
<rect x="273.83" y="130.00" width="9.77" height="4.00" fill="#c02878"/>
<rect x="273.83" y="134.00" width="9.77" height="6.00" fill="#f0c0c8"/>
<rect x="273.83" y="140.00" width="9.77" height="3.00" fill="#c0a0e0"/>
<rect x="273.83" y="143.00" width="9.77" height="3.00" fill="#d04060"/>
<rect x="273.83" y="146.00" width="9.77" height="3.00" fill="#f08030"/>
<rect x="273.83" y="149.00" width="9.77" height="3.00" fill="#301090"/>
<rect x="273.83" y="152.00" width="9.77" height="3.00" fill="#8010a0"/>
<rect x="273.83" y="155.00" width="9.77" height="7.00" fill="#f0c0c8"/>
<rect x="273.83" y="162.00" width="9.77" height="8.00" fill="#f89030"/>
<rect x="273.83" y="170.00" width="9.77" height="3.00" fill="#301090"/>
<rect x="273.83" y="173.00" width="9.77" height="3.00" fill="#f08838"/>
<rect x="273.83" y="176.00" width="9.77" height="3.30" fill="#c02080"/>
<rect x="284.60" y="76.70" width="9.77" height="1.30" fill="#e8b0d0"/>
<rect x="284.60" y="78.00" width="9.77" height="2.00" fill="#f8c8b0"/>
<rect x="284.60" y="80.00" width="9.77" height="6.00" fill="#f8f040"/>
<rect x="284.60" y="86.00" width="9.77" height="2.00" fill="#f8f0a0"/>
<rect x="284.60" y="88.00" width="9.77" height="3.00" fill="#e0a8d8"/>
<rect x="284.60" y="91.00" width="9.77" height="17.00" fill="#c098e0"/>
<rect x="284.60" y="108.00" width="9.77" height="3.00" fill="#f8c040"/>
<rect x="284.60" y="111.00" width="9.77" height="3.00" fill="#e04848"/>
<rect x="284.60" y="114.00" width="9.77" height="3.00" fill="#f8b038"/>
<rect x="284.60" y="117.00" width="9.77" height="4.00" fill="#d03068"/>
<rect x="284.60" y="121.00" width="9.77" height="4.00" fill="#f89030"/>
<rect x="284.60" y="125.00" width="9.77" height="3.00" fill="#e04848"/>
<rect x="284.60" y="128.00" width="9.77" height="6.00" fill="#d03068"/>
<rect x="284.60" y="134.00" width="9.77" height="11.00" fill="#f0c0c8"/>
<rect x="284.60" y="145.00" width="9.77" height="5.00" fill="#f8e040"/>
<rect x="284.60" y="150.00" width="9.77" height="3.00" fill="#8010a0"/>
<rect x="284.60" y="153.00" width="9.77" height="2.00" fill="#e05060"/>
<rect x="284.60" y="155.00" width="9.77" height="3.00" fill="#301090"/>
<rect x="284.60" y="158.00" width="9.77" height="4.00" fill="#f0c0c8"/>
<rect x="284.60" y="162.00" width="9.77" height="10.00" fill="#e04868"/>
<rect x="284.60" y="172.00" width="9.77" height="3.00" fill="#8010a0"/>
<rect x="284.60" y="175.00" width="9.77" height="4.30" fill="#e05060"/>
<rect x="295.37" y="76.70" width="9.77" height="47.30" fill="#c8c8e8"/>
<rect x="295.37" y="124.00" width="9.77" height="2.00" fill="#f08040"/>
<rect x="295.37" y="126.00" width="9.77" height="5.50" fill="#c8c8e8"/>
<rect x="295.37" y="131.50" width="9.77" height="1.50" fill="#f08040"/>
<rect x="295.37" y="133.00" width="9.77" height="1.00" fill="#c8c8e8"/>
<rect x="295.37" y="134.00" width="9.77" height="18.00" fill="#c8c8e8"/>
<rect x="295.37" y="152.00" width="9.77" height="2.00" fill="#d02060"/>
<rect x="295.37" y="154.00" width="9.77" height="8.00" fill="#c8c8e8"/>
<rect x="295.37" y="162.00" width="9.77" height="4.00" fill="#8010a0"/>
<rect x="295.37" y="166.00" width="9.77" height="4.00" fill="#3010a0"/>
<rect x="295.37" y="170.00" width="9.77" height="9.30" fill="#c8c8e8"/>
<rect x="306.13" y="76.70" width="9.77" height="67.30" fill="#c8c8e8"/>
<rect x="306.13" y="144.00" width="9.77" height="3.00" fill="#d02060"/>
<rect x="306.13" y="147.00" width="9.77" height="2.00" fill="#f0b0c8"/>
<rect x="306.13" y="149.00" width="9.77" height="1.00" fill="#c8c8e8"/>
<rect x="306.13" y="150.00" width="9.77" height="2.00" fill="#201090"/>
<rect x="306.13" y="152.00" width="9.77" height="27.30" fill="#c8c8e8"/>
<rect x="316.90" y="76.70" width="9.77" height="73.30" fill="#c8c8e8"/>
<rect x="316.90" y="150.00" width="9.77" height="2.00" fill="#201090"/>
<rect x="316.90" y="152.00" width="9.77" height="27.30" fill="#c8c8e8"/>
<rect x="327.67" y="76.70" width="9.77" height="5.30" fill="#d8a0e0"/>
<rect x="327.67" y="82.00" width="9.77" height="8.00" fill="#c8c8e8"/>
<rect x="327.67" y="90.00" width="9.77" height="18.00" fill="#f0b8c0"/>
<rect x="327.67" y="108.00" width="9.77" height="25.00" fill="#7010a8"/>
<rect x="327.67" y="133.00" width="9.77" height="10.00" fill="#b0a0e0"/>
<rect x="327.67" y="143.00" width="9.77" height="11.00" fill="#8010a8"/>
<rect x="327.67" y="154.00" width="9.77" height="7.00" fill="#f8e080"/>
<rect x="327.67" y="161.00" width="9.77" height="18.30" fill="#4010a0"/>
<rect x="338.43" y="76.70" width="9.77" height="3.30" fill="#f8f080"/>
<rect x="338.43" y="80.00" width="9.77" height="2.00" fill="#c0a0e0"/>
<rect x="338.43" y="82.00" width="9.77" height="3.00" fill="#201080"/>
<rect x="338.43" y="85.00" width="9.77" height="4.00" fill="#9090d8"/>
<rect x="338.43" y="89.00" width="9.77" height="19.00" fill="#f8c8b0"/>
<rect x="338.43" y="108.00" width="9.77" height="25.00" fill="#a020a0"/>
<rect x="338.43" y="133.00" width="9.77" height="10.00" fill="#c0a0e0"/>
<rect x="338.43" y="143.00" width="9.77" height="5.00" fill="#a020a0"/>
<rect x="338.43" y="148.00" width="9.77" height="2.00" fill="#f09040"/>
<rect x="338.43" y="150.00" width="9.77" height="4.00" fill="#a020a0"/>
<rect x="338.43" y="154.00" width="9.77" height="6.00" fill="#f8d860"/>
<rect x="338.43" y="160.00" width="9.77" height="19.30" fill="#7010a8"/>
<rect x="349.20" y="76.70" width="9.77" height="4.30" fill="#f0a8c8"/>
<rect x="349.20" y="81.00" width="9.77" height="3.00" fill="#e04868"/>
<rect x="349.20" y="84.00" width="9.77" height="24.00" fill="#f0a8c8"/>
<rect x="349.20" y="108.00" width="9.77" height="26.00" fill="#d04070"/>
<rect x="349.20" y="134.00" width="9.77" height="9.00" fill="#f0b0c8"/>
<rect x="349.20" y="143.00" width="9.77" height="13.00" fill="#d04870"/>
<rect x="349.20" y="156.00" width="9.77" height="5.00" fill="#f0b0c8"/>
<rect x="349.20" y="161.00" width="9.77" height="18.30" fill="#d04870"/>
<rect x="359.97" y="76.70" width="9.77" height="6.30" fill="#c8a0e0"/>
<rect x="359.97" y="83.00" width="9.77" height="5.00" fill="#9090d8"/>
<rect x="359.97" y="88.00" width="9.77" height="20.00" fill="#f8b8a8"/>
<rect x="359.97" y="108.00" width="9.77" height="26.00" fill="#f08038"/>
<rect x="359.97" y="134.00" width="9.77" height="9.00" fill="#a8a0e0"/>
<rect x="359.97" y="143.00" width="9.77" height="7.00" fill="#f08838"/>
<rect x="359.97" y="150.00" width="9.77" height="2.00" fill="#f8e040"/>
<rect x="359.97" y="152.00" width="9.77" height="4.00" fill="#f08838"/>
<rect x="359.97" y="156.00" width="9.77" height="5.00" fill="#c8c8e8"/>
<rect x="359.97" y="161.00" width="9.77" height="9.00" fill="#8010a8"/>
<rect x="359.97" y="170.00" width="9.77" height="9.30" fill="#3010a0"/>
<rect x="370.73" y="76.70" width="9.77" height="5.30" fill="#c8c8e8"/>
<rect x="370.73" y="82.00" width="9.77" height="3.00" fill="#201080"/>
<rect x="370.73" y="85.00" width="9.77" height="23.00" fill="#e8a8d8"/>
<rect x="370.73" y="108.00" width="9.77" height="18.00" fill="#a020a0"/>
<rect x="370.73" y="126.00" width="9.77" height="8.00" fill="#b02090"/>
<rect x="370.73" y="134.00" width="9.77" height="9.00" fill="#f0b0c8"/>
<rect x="370.73" y="143.00" width="9.77" height="13.00" fill="#d04070"/>
<rect x="370.73" y="156.00" width="9.77" height="5.00" fill="#f0b0c8"/>
<rect x="370.73" y="161.00" width="9.77" height="9.00" fill="#f89028"/>
<rect x="370.73" y="170.00" width="9.77" height="9.30" fill="#f8f020"/>
<rect x="381.50" y="76.70" width="9.77" height="5.30" fill="#c8c8e8"/>
<rect x="381.50" y="82.00" width="9.77" height="2.00" fill="#8010a8"/>
<rect x="381.50" y="84.00" width="9.77" height="5.00" fill="#f8f080"/>
<rect x="381.50" y="89.00" width="9.77" height="19.00" fill="#c8c8e8"/>
<rect x="381.50" y="108.00" width="9.77" height="18.00" fill="#6010a8"/>
<rect x="381.50" y="126.00" width="9.77" height="8.00" fill="#5010a8"/>
<rect x="381.50" y="134.00" width="9.77" height="9.00" fill="#f0b0c8"/>
<rect x="381.50" y="143.00" width="9.77" height="13.00" fill="#6010a8"/>
<rect x="381.50" y="156.00" width="9.77" height="5.00" fill="#f8f0a0"/>
<rect x="381.50" y="161.00" width="9.77" height="18.30" fill="#6010a8"/>
<rect x="392.27" y="76.70" width="9.77" height="3.30" fill="#c0a0e0"/>
<rect x="392.27" y="80.00" width="9.77" height="3.00" fill="#a020a0"/>
<rect x="392.27" y="83.00" width="9.77" height="5.00" fill="#9090d8"/>
<rect x="392.27" y="88.00" width="9.77" height="20.00" fill="#f8e090"/>
<rect x="392.27" y="108.00" width="9.77" height="26.00" fill="#e05858"/>
<rect x="392.27" y="134.00" width="9.77" height="9.00" fill="#f0b0c8"/>
<rect x="392.27" y="143.00" width="9.77" height="5.00" fill="#e05858"/>
<rect x="392.27" y="148.00" width="9.77" height="2.00" fill="#201080"/>
<rect x="392.27" y="150.00" width="9.77" height="4.00" fill="#e05858"/>
<rect x="392.27" y="154.00" width="9.77" height="2.00" fill="#201080"/>
<rect x="392.27" y="156.00" width="9.77" height="5.00" fill="#f0b0c8"/>
<rect x="392.27" y="161.00" width="9.77" height="18.30" fill="#e06060"/>
<rect x="403.03" y="76.70" width="9.77" height="3.30" fill="#f0b0c8"/>
<rect x="403.03" y="80.00" width="9.77" height="3.00" fill="#d04060"/>
<rect x="403.03" y="83.00" width="9.77" height="25.00" fill="#f0b0c8"/>
<rect x="403.03" y="108.00" width="9.77" height="26.00" fill="#d04878"/>
<rect x="403.03" y="134.00" width="9.77" height="9.00" fill="#f0b0c8"/>
<rect x="403.03" y="143.00" width="9.77" height="13.00" fill="#d04878"/>
<rect x="403.03" y="156.00" width="9.77" height="5.00" fill="#f0b0c8"/>
<rect x="403.03" y="161.00" width="9.77" height="18.30" fill="#d04878"/>
<rect x="413.80" y="76.70" width="9.77" height="3.30" fill="#f8f0a0"/>
<rect x="413.80" y="80.00" width="9.77" height="2.00" fill="#9090d8"/>
<rect x="413.80" y="82.00" width="9.77" height="3.00" fill="#f8e040"/>
<rect x="413.80" y="85.00" width="9.77" height="23.00" fill="#f8f8a0"/>
<rect x="413.80" y="108.00" width="9.77" height="26.00" fill="#f0f020"/>
<rect x="413.80" y="134.00" width="9.77" height="9.00" fill="#f8f0c0"/>
<rect x="413.80" y="143.00" width="9.77" height="4.00" fill="#f0b0c8"/>
<rect x="413.80" y="147.00" width="9.77" height="3.00" fill="#e05040"/>
<rect x="413.80" y="150.00" width="9.77" height="2.00" fill="#f8e040"/>
<rect x="413.80" y="152.00" width="9.77" height="3.00" fill="#d04060"/>
<rect x="413.80" y="155.00" width="9.77" height="5.00" fill="#f8f0c0"/>
<rect x="413.80" y="160.00" width="9.77" height="10.00" fill="#201080"/>
<rect x="413.80" y="170.00" width="9.77" height="9.30" fill="#f8f020"/>
<rect x="424.57" y="76.70" width="9.77" height="3.30" fill="#f0b0c8"/>
<rect x="424.57" y="80.00" width="9.77" height="2.00" fill="#f8f0a0"/>
<rect x="424.57" y="82.00" width="9.77" height="3.00" fill="#d04068"/>
<rect x="424.57" y="85.00" width="9.77" height="23.00" fill="#e0a8d8"/>
<rect x="424.57" y="108.00" width="9.77" height="18.00" fill="#d04070"/>
<rect x="424.57" y="126.00" width="9.77" height="8.00" fill="#c03080"/>
<rect x="424.57" y="134.00" width="9.77" height="9.00" fill="#f8d0b0"/>
<rect x="424.57" y="143.00" width="9.77" height="7.00" fill="#f8e040"/>
<rect x="424.57" y="150.00" width="9.77" height="2.00" fill="#a0a0b0"/>
<rect x="424.57" y="152.00" width="9.77" height="2.00" fill="#f08040"/>
<rect x="424.57" y="154.00" width="9.77" height="2.00" fill="#8010a0"/>
<rect x="424.57" y="156.00" width="9.77" height="5.00" fill="#f8f0c0"/>
<rect x="424.57" y="161.00" width="9.77" height="9.00" fill="#6010a8"/>
<rect x="424.57" y="170.00" width="9.77" height="9.30" fill="#f8f020"/>
<rect x="435.33" y="76.70" width="9.77" height="2.30" fill="#9090d8"/>
<rect x="435.33" y="79.00" width="9.77" height="3.00" fill="#f8f0a0"/>
<rect x="435.33" y="82.00" width="9.77" height="3.00" fill="#100860"/>
<rect x="435.33" y="85.00" width="9.77" height="23.00" fill="#f8f8a0"/>
<rect x="435.33" y="108.00" width="9.77" height="17.00" fill="#f0f020"/>
<rect x="435.33" y="125.00" width="9.77" height="1.00" fill="#404040"/>
<rect x="435.33" y="126.00" width="9.77" height="4.00" fill="#f0f020"/>
<rect x="435.33" y="130.00" width="9.77" height="3.00" fill="#201080"/>
<rect x="435.33" y="133.00" width="9.77" height="10.00" fill="#a0a0e0"/>
<rect x="435.33" y="143.00" width="9.77" height="6.00" fill="#201080"/>
<rect x="435.33" y="149.00" width="9.77" height="2.00" fill="#f8e040"/>
<rect x="435.33" y="151.00" width="9.77" height="2.00" fill="#808020"/>
<rect x="435.33" y="153.00" width="9.77" height="2.00" fill="#f8e040"/>
<rect x="435.33" y="155.00" width="9.77" height="5.00" fill="#c0c0d8"/>
<rect x="435.33" y="160.00" width="9.77" height="10.00" fill="#f8f020"/>
<rect x="435.33" y="170.00" width="9.77" height="9.30" fill="#201080"/>
<rect x="446.10" y="76.70" width="9.77" height="3.30" fill="#f0b0c8"/>
<rect x="446.10" y="80.00" width="9.77" height="3.00" fill="#9090d8"/>
<rect x="446.10" y="83.00" width="9.77" height="3.00" fill="#f0a040"/>
<rect x="446.10" y="86.00" width="9.77" height="22.00" fill="#9098d8"/>
<rect x="446.10" y="108.00" width="9.77" height="18.00" fill="#a020a0"/>
<rect x="446.10" y="126.00" width="9.77" height="8.00" fill="#9020a0"/>
<rect x="446.10" y="134.00" width="9.77" height="9.00" fill="#b0a0e0"/>
<rect x="446.10" y="143.00" width="9.77" height="7.00" fill="#d04070"/>
<rect x="446.10" y="150.00" width="9.77" height="3.00" fill="#f08040"/>
<rect x="446.10" y="153.00" width="9.77" height="3.00" fill="#d04060"/>
<rect x="446.10" y="156.00" width="9.77" height="5.00" fill="#f0c0c8"/>
<rect x="446.10" y="161.00" width="9.77" height="18.30" fill="#8010a8"/>
<rect x="456.87" y="76.70" width="9.77" height="3.30" fill="#f0b0c8"/>
<rect x="456.87" y="80.00" width="9.77" height="2.00" fill="#c0a0e0"/>
<rect x="456.87" y="82.00" width="9.77" height="3.00" fill="#201080"/>
<rect x="456.87" y="85.00" width="9.77" height="3.00" fill="#c0a0e0"/>
<rect x="456.87" y="88.00" width="9.77" height="3.00" fill="#f8f0a0"/>
<rect x="456.87" y="91.00" width="9.77" height="17.00" fill="#e0a8d8"/>
<rect x="456.87" y="108.00" width="9.77" height="26.00" fill="#5010a8"/>
<rect x="456.87" y="134.00" width="9.77" height="9.00" fill="#e0a8d8"/>
<rect x="456.87" y="143.00" width="9.77" height="6.00" fill="#f8e040"/>
<rect x="456.87" y="149.00" width="9.77" height="3.00" fill="#a06030"/>
<rect x="456.87" y="152.00" width="9.77" height="4.00" fill="#f8c040"/>
<rect x="456.87" y="156.00" width="9.77" height="5.00" fill="#f0c0c8"/>
<rect x="456.87" y="161.00" width="9.77" height="9.00" fill="#d04870"/>
<rect x="456.87" y="170.00" width="9.77" height="9.30" fill="#7010a8"/>
<rect x="467.63" y="76.70" width="9.77" height="5.30" fill="#f0b8b8"/>
<rect x="467.63" y="82.00" width="9.77" height="4.00" fill="#f0a040"/>
<rect x="467.63" y="86.00" width="9.77" height="4.00" fill="#b0a0e0"/>
<rect x="467.63" y="90.00" width="9.77" height="18.00" fill="#f0b0c8"/>
<rect x="467.63" y="108.00" width="9.77" height="26.00" fill="#f08838"/>
<rect x="467.63" y="134.00" width="9.77" height="9.00" fill="#e0a8d8"/>
<rect x="467.63" y="143.00" width="9.77" height="6.00" fill="#201080"/>
<rect x="467.63" y="149.00" width="9.77" height="3.00" fill="#f08040"/>
<rect x="467.63" y="152.00" width="9.77" height="4.00" fill="#d04060"/>
<rect x="467.63" y="156.00" width="9.77" height="5.00" fill="#f0b0c8"/>
<rect x="467.63" y="161.00" width="9.77" height="9.00" fill="#f08838"/>
<rect x="467.63" y="170.00" width="9.77" height="9.30" fill="#d04878"/>
<rect x="478.40" y="76.70" width="9.77" height="5.30" fill="#c090e0"/>
<rect x="478.40" y="82.00" width="9.77" height="3.00" fill="#f8e040"/>
<rect x="478.40" y="85.00" width="9.77" height="5.00" fill="#f8f0a0"/>
<rect x="478.40" y="90.00" width="9.77" height="18.00" fill="#9098d8"/>
<rect x="478.40" y="108.00" width="9.77" height="26.00" fill="#7010b0"/>
<rect x="478.40" y="134.00" width="9.77" height="9.00" fill="#f0c0c8"/>
<rect x="478.40" y="143.00" width="9.77" height="7.00" fill="#8010a8"/>
<rect x="478.40" y="150.00" width="9.77" height="3.00" fill="#d04060"/>
<rect x="478.40" y="153.00" width="9.77" height="3.00" fill="#8010a8"/>
<rect x="478.40" y="156.00" width="9.77" height="5.00" fill="#c0a0e0"/>
<rect x="478.40" y="161.00" width="9.77" height="9.00" fill="#301090"/>
<rect x="478.40" y="170.00" width="9.77" height="9.30" fill="#f06858"/>
<rect x="489.17" y="76.70" width="9.77" height="4.30" fill="#9090d8"/>
<rect x="489.17" y="81.00" width="9.77" height="4.00" fill="#f8e060"/>
<rect x="489.17" y="85.00" width="9.77" height="5.00" fill="#f8f0a0"/>
<rect x="489.17" y="90.00" width="9.77" height="18.00" fill="#e0a8d8"/>
<rect x="489.17" y="108.00" width="9.77" height="26.00" fill="#3010a0"/>
<rect x="489.17" y="134.00" width="9.77" height="9.00" fill="#a0a0e0"/>
<rect x="489.17" y="143.00" width="9.77" height="7.00" fill="#c03080"/>
<rect x="489.17" y="150.00" width="9.77" height="2.00" fill="#201080"/>
<rect x="489.17" y="152.00" width="9.77" height="2.00" fill="#d04060"/>
<rect x="489.17" y="154.00" width="9.77" height="2.00" fill="#201080"/>
<rect x="489.17" y="156.00" width="9.77" height="5.00" fill="#c0a0e0"/>
<rect x="489.17" y="161.00" width="9.77" height="9.00" fill="#8010b0"/>
<rect x="489.17" y="170.00" width="9.77" height="9.30" fill="#5010a8"/>
<rect x="499.93" y="76.70" width="9.77" height="2.30" fill="#f8f0a0"/>
<rect x="499.93" y="79.00" width="9.77" height="3.00" fill="#9090d8"/>
<rect x="499.93" y="82.00" width="9.77" height="2.00" fill="#f06850"/>
<rect x="499.93" y="84.00" width="9.77" height="4.00" fill="#f8f0a0"/>
<rect x="499.93" y="88.00" width="9.77" height="20.00" fill="#e0a8d8"/>
<rect x="499.93" y="108.00" width="9.77" height="26.00" fill="#b02890"/>
<rect x="499.93" y="134.00" width="9.77" height="9.00" fill="#f0c0b8"/>
<rect x="499.93" y="143.00" width="9.77" height="6.00" fill="#5010a8"/>
<rect x="499.93" y="149.00" width="9.77" height="3.00" fill="#d04060"/>
<rect x="499.93" y="152.00" width="9.77" height="2.00" fill="#f08040"/>
<rect x="499.93" y="154.00" width="9.77" height="2.00" fill="#5010a8"/>
<rect x="499.93" y="156.00" width="9.77" height="5.00" fill="#f8f0a0"/>
<rect x="499.93" y="161.00" width="9.77" height="9.00" fill="#a020a0"/>
<rect x="499.93" y="170.00" width="9.77" height="9.30" fill="#f08838"/>
<rect x="8.7" y="137.6" width="52" height="2.6" fill="#eef1f6"/>
<rect x="8.7" y="9.2" width="74.1" height="128.6" fill="#fdfdfe"/>
<rect x="9.6" y="11.4" width="73.0" height="7.3" rx="1.2" fill="#f1f1f1" stroke="#a8a8a8" stroke-width="0.6"/>
<text x="11.0" y="16.81" font-size="4.9" fill="#111" font-weight="bold" text-anchor="start" stroke="#111" stroke-width="0.12" textLength="36.5" lengthAdjust="spacingAndGlyphs" >Visible SPM Axes</text>
<path d="M77.50 14.15 L79.00 15.75 L80.50 14.15 L79.00 14.95 Z" fill="#333" stroke="#333" stroke-width="0.45" stroke-linejoin="round"/>
<rect x="11.35" y="20.75" width="4.6" height="4.6" rx="1" fill="#ffffff" stroke="#474b60" stroke-width="0.85"/>
<text x="17.8" y="24.9" font-size="5.85" fill="#1a1a1a" font-weight="normal" text-anchor="start" stroke="#1a1a1a" stroke-width="0.25" >Index</text>
<rect x="11" y="28.90" width="5.3" height="5.3" rx="1" fill="#e85a2c"/>
<path d="M12.1 31.60 L13.3 32.80 L15.3 30.30" fill="none" stroke="#ffffff" stroke-width="0.9"/>
<text x="17.8" y="33.4" font-size="5.85" fill="#1a1a1a" font-weight="normal" text-anchor="start" stroke="#1a1a1a" stroke-width="0.25" >pH</text>
<rect x="11" y="36.50" width="5.3" height="5.3" rx="1" fill="#e85a2c"/>
<path d="M12.1 39.20 L13.3 40.40 L15.3 37.90" fill="none" stroke="#ffffff" stroke-width="0.9"/>
<text x="17.8" y="41.0" font-size="5.85" fill="#1a1a1a" font-weight="normal" text-anchor="start" stroke="#1a1a1a" stroke-width="0.25" >Temperature (°C)</text>
<rect x="11.35" y="44.45" width="4.6" height="4.6" rx="1" fill="#ffffff" stroke="#474b60" stroke-width="0.85"/>
<text x="17.8" y="48.6" font-size="5.85" fill="#1a1a1a" font-weight="normal" text-anchor="start" stroke="#1a1a1a" stroke-width="0.25" >Year</text>
<rect x="11" y="52.60" width="5.3" height="5.3" rx="1" fill="#e85a2c"/>
<path d="M12.1 55.30 L13.3 56.50 L15.3 54.00" fill="none" stroke="#ffffff" stroke-width="0.9"/>
<text x="17.8" y="57.1" font-size="5.85" fill="#1a1a1a" font-weight="normal" text-anchor="start" stroke="#1a1a1a" stroke-width="0.25" >SPM full matrix</text>
<rect x="9.6" y="66.9" width="60" height="6.2" rx="1.2" fill="#e6edf7" stroke="#8a8a8a" stroke-width="0.6"/>
<text x="11.0" y="71.76" font-size="4.9" fill="#111" font-weight="bold" text-anchor="start" stroke="#111" stroke-width="0.12" textLength="38.2" lengthAdjust="spacingAndGlyphs" >Visible KPPC Axes</text>
<path d="M64.50 69.10 L66.00 70.70 L67.50 69.10 L66.00 69.90 Z" fill="#333" stroke="#333" stroke-width="0.45" stroke-linejoin="round"/>
<rect x="11" y="75.70" width="5.3" height="5.3" rx="1" fill="#c4c6cc"/>
<path d="M12.1 78.40 L13.3 79.60 L15.3 77.10" fill="none" stroke="#ffffff" stroke-width="0.9"/>
<text x="17.8" y="80.2" font-size="5.85" fill="#1a1a1a" font-weight="normal" text-anchor="start" stroke="#1a1a1a" stroke-width="0.25" >EntryID</text>
<rect x="11" y="83.50" width="5.3" height="5.3" rx="1" fill="#c4c6cc"/>
<path d="M12.1 86.20 L13.3 87.40 L15.3 84.90" fill="none" stroke="#ffffff" stroke-width="0.9"/>
<text x="17.8" y="88.0" font-size="5.85" fill="#1a1a1a" font-weight="normal" text-anchor="start" stroke="#1a1a1a" stroke-width="0.25" >Type</text>
<rect x="11" y="91.10" width="5.3" height="5.3" rx="1" fill="#e85a2c"/>
<path d="M12.1 93.80 L13.3 95.00 L15.3 92.50" fill="none" stroke="#ffffff" stroke-width="0.9"/>
<text x="17.8" y="95.6" font-size="5.85" fill="#1a1a1a" font-weight="normal" text-anchor="start" stroke="#1a1a1a" stroke-width="0.25" >Associated Species</text>
<rect x="11.35" y="99.65" width="4.6" height="4.6" rx="1" fill="#ffffff" stroke="#474b60" stroke-width="0.85"/>
<text x="17.8" y="103.8" font-size="5.85" fill="#1a1a1a" font-weight="normal" text-anchor="start" stroke="#1a1a1a" stroke-width="0.25" >Start Value Log</text>
<rect x="11" y="106.60" width="5.3" height="5.3" rx="1" fill="#e85a2c"/>
<path d="M12.1 109.30 L13.3 110.50 L15.3 108.00" fill="none" stroke="#ffffff" stroke-width="0.9"/>
<text x="17.8" y="111.1" font-size="5.85" fill="#1a1a1a" font-weight="normal" text-anchor="start" stroke="#1a1a1a" stroke-width="0.25" >Start Value Original</text>
<rect x="11" y="114.60" width="5.3" height="5.3" rx="1" fill="#e85a2c"/>
<path d="M12.1 117.30 L13.3 118.50 L15.3 116.00" fill="none" stroke="#ffffff" stroke-width="0.9"/>
<text x="17.8" y="119.1" font-size="5.85" fill="#1a1a1a" font-weight="normal" text-anchor="start" stroke="#1a1a1a" stroke-width="0.25" >Unit</text>
<rect x="11" y="122.40" width="5.3" height="5.3" rx="1" fill="#e85a2c"/>
<path d="M12.1 125.10 L13.3 126.30 L15.3 123.80" fill="none" stroke="#ffffff" stroke-width="0.9"/>
<text x="17.8" y="126.9" font-size="5.85" fill="#1a1a1a" font-weight="normal" text-anchor="start" stroke="#1a1a1a" stroke-width="0.25" >Temperature (°C)</text>
<rect x="11" y="130.50" width="5.3" height="5.3" rx="1" fill="#e85a2c"/>
<path d="M12.1 133.20 L13.3 134.40 L15.3 131.90" fill="none" stroke="#ffffff" stroke-width="0.9"/>
<text x="17.8" y="135.0" font-size="5.85" fill="#1a1a1a" font-weight="normal" text-anchor="start" stroke="#1a1a1a" stroke-width="0.25" >pH</text>
<rect x="60" y="34.5" width="76" height="103" fill="#fdfdfe"/>
<rect x="60" y="137.5" width="76" height="19" fill="#f4f7fc"/>
<rect x="60" y="138.8" width="75" height="7.4" fill="#e4edf9"/>
<text x="61.1" y="45.6" font-size="5.8" fill="#1a1a1a" font-weight="normal" text-anchor="start" stroke="#1a1a1a" stroke-width="0.25" textLength="37.2" lengthAdjust="spacingAndGlyphs" >Color Scheme</text>
<text x="61.1" y="52.2" font-size="5.8" fill="#1a1a1a" font-weight="normal" text-anchor="start" stroke="#1a1a1a" stroke-width="0.25" textLength="60.3" lengthAdjust="spacingAndGlyphs" >(PC, SPM, KPPC, KPSP)</text>
<rect x="61.8" y="54.6" width="72.6" height="6.4" rx="1.2" fill="#f7f7f7" stroke="#8a8a8a" stroke-width="0.6"/>
<text x="63.199999999999996" y="59.46" font-size="4.6" fill="#111" font-weight="bold" text-anchor="start" stroke="#111" stroke-width="0.12" textLength="9.2" lengthAdjust="spacingAndGlyphs" >Cool</text>
<path d="M129.30 56.90 L130.80 58.50 L132.30 56.90 L130.80 57.70 Z" fill="#333" stroke="#333" stroke-width="0.45" stroke-linejoin="round"/>
<defs><linearGradient id="cool" x1="0" x2="1" y1="0" y2="0"><stop offset="0" stop-color="#5a2ea6"/><stop offset="0.22" stop-color="#4a55d2"/><stop offset="0.45" stop-color="#2f98d8"/><stop offset="0.62" stop-color="#22c4c2"/><stop offset="0.8" stop-color="#3ddc8e"/><stop offset="1" stop-color="#a6e23c"/></linearGradient></defs>
<rect x="62.3" y="62.9" width="72.2" height="5.4" fill="url(#cool)" stroke="#555" stroke-width="0.4"/>
<text x="61.3" y="80.2" font-size="5.8" fill="#1a1a1a" font-weight="normal" text-anchor="start" stroke="#1a1a1a" stroke-width="0.25" textLength="57.6" lengthAdjust="spacingAndGlyphs" >NULL ("-") value color</text>
<text x="61.3" y="87.1" font-size="5.8" fill="#1a1a1a" font-weight="normal" text-anchor="start" stroke="#1a1a1a" stroke-width="0.25" textLength="38" lengthAdjust="spacingAndGlyphs" >(for all graphs)</text>
<rect x="61.4" y="88.7" width="73.1" height="6.8" rx="1.2" fill="#f40808" stroke="#9a2020" stroke-width="0.6"/>
<text x="62.8" y="93.76" font-size="4.6" fill="#6a0000" font-weight="bold" text-anchor="start" stroke="#6a0000" stroke-width="0.12" textLength="8.5" lengthAdjust="spacingAndGlyphs" >Red</text>
<path d="M129.40 91.20 L130.90 92.80 L132.40 91.20 L130.90 92.00 Z" fill="#333" stroke="#333" stroke-width="0.45" stroke-linejoin="round"/>
<text x="61.4" y="100.2" font-size="4.0" fill="#111" font-weight="normal" text-anchor="start" stroke="#111" stroke-width="0.12" textLength="70" lengthAdjust="spacingAndGlyphs" >The "null" color is visible if the data</text>
<text x="61.4" y="105.0" font-size="4.0" fill="#111" font-weight="normal" text-anchor="start" stroke="#111" stroke-width="0.12" textLength="73" lengthAdjust="spacingAndGlyphs" >is sorted by the key that contains the</text>
<text x="61.4" y="109.8" font-size="4.0" fill="#111" font-weight="normal" text-anchor="start" stroke="#111" stroke-width="0.12" textLength="21" lengthAdjust="spacingAndGlyphs" >null values.</text>
<text x="60.6" y="122.6" font-size="5.8" fill="#1a1a1a" font-weight="normal" text-anchor="start" stroke="#1a1a1a" stroke-width="0.25" textLength="60" lengthAdjust="spacingAndGlyphs" >PC, SPM: color by axis</text>
<rect x="61.5" y="124.9" width="72.5" height="6.9" rx="1.2" fill="#f7f7f7" stroke="#8a8a8a" stroke-width="0.6"/>
<text x="62.9" y="130.01" font-size="4.6" fill="#111" font-weight="bold" text-anchor="start" stroke="#111" stroke-width="0.12" textLength="18.6" lengthAdjust="spacingAndGlyphs" >PH Value</text>
<path d="M128.90 127.45 L130.40 129.05 L131.90 127.45 L130.40 128.25 Z" fill="#333" stroke="#333" stroke-width="0.45" stroke-linejoin="round"/>
<text x="61.1" y="143.9" font-size="5.8" fill="#1a1a1a" font-weight="normal" text-anchor="start" stroke="#1a1a1a" stroke-width="0.25" textLength="68" lengthAdjust="spacingAndGlyphs" >KPPC, KPSP: color by axis</text>
<rect x="60.6" y="146.2" width="74.4" height="7.2" fill="#dce8f8"/>
<rect x="60.6" y="146.0" width="74.4" height="0.6" fill="#5a6070"/>
<rect x="60.6" y="146.0" width="0.5" height="7.4" fill="#8a90a0"/>
<text x="62.4" y="151.6" font-size="4.6" fill="#111" font-weight="bold" text-anchor="start" textLength="6.5" lengthAdjust="spacingAndGlyphs" >pH</text>
<path d="M129.9 149.3 L131.2 150.6 L132.5 149.3" fill="none" stroke="#333" stroke-width="0.8"/>
<rect x="9" y="186" width="137.3" height="79" fill="#fdfdfe"/>
<text x="10" y="189.5" font-size="2.4" fill="#1e1e1e" font-weight="normal" text-anchor="start" textLength="11.3" lengthAdjust="spacingAndGlyphs" >Select Y axis:</text>
<rect x="23" y="186.8" width="19.5" height="3.4" rx="0.6" fill="#eeeeee" stroke="#888" stroke-width="0.3"/>
<text x="24" y="189.4" font-size="2.4" fill="#222" font-weight="normal" text-anchor="start" >Temperature</text>
<path d="M40.2 188.0 L41.8 188.0 L41.0 189.0 Z" fill="#333"/>
<text x="52" y="189.5" font-size="2.4" fill="#1e1e1e" font-weight="normal" text-anchor="start" textLength="8.7" lengthAdjust="spacingAndGlyphs" >Point size:</text>
<rect x="62.2" y="187" width="10" height="3.4" rx="0.6" fill="#eeeeee" stroke="#888" stroke-width="0.3"/>
<text x="63.2" y="189.6" font-size="2.4" fill="#222" font-weight="normal" text-anchor="start" >pH</text>
<rect x="60.5" y="191.6" width="10.5" height="0.8" fill="#c8c8c8"/>
<rect x="52.2" y="194.3" width="2" height="2" fill="none" stroke="#444" stroke-width="0.3"/><rect x="55.4" y="194.3" width="2" height="2" fill="none" stroke="#444" stroke-width="0.3"/>
<text x="58.6" y="196.0" font-size="2.2" fill="#2a2a2a" font-weight="normal" text-anchor="start" textLength="12.4" lengthAdjust="spacingAndGlyphs" >toggle log scale</text>
<text x="19.8" y="203.2" font-size="2.9" fill="#111" font-weight="bold" text-anchor="start" >Temperature (°C)</text>
<line x1="22.3" y1="204" x2="22.3" y2="251.2" stroke="#777" stroke-width="0.6"/>
<line x1="22.3" y1="251" x2="117.5" y2="251" stroke="#777" stroke-width="0.6"/>
<text x="21.2" y="205.8" font-size="2.2" fill="#1e1e1e" font-weight="normal" text-anchor="end" >130</text>
<line x1="21.5" y1="205.00" x2="22.3" y2="205.00" stroke="#777" stroke-width="0.4"/>
<text x="21.2" y="209.3" font-size="2.2" fill="#1e1e1e" font-weight="normal" text-anchor="end" >120</text>
<line x1="21.5" y1="208.50" x2="22.3" y2="208.50" stroke="#777" stroke-width="0.4"/>
<text x="21.2" y="212.8" font-size="2.2" fill="#1e1e1e" font-weight="normal" text-anchor="end" >110</text>
<line x1="21.5" y1="212.00" x2="22.3" y2="212.00" stroke="#777" stroke-width="0.4"/>
<text x="21.2" y="216.3" font-size="2.2" fill="#1e1e1e" font-weight="normal" text-anchor="end" >100</text>
<line x1="21.5" y1="215.50" x2="22.3" y2="215.50" stroke="#777" stroke-width="0.4"/>
<text x="21.2" y="219.8" font-size="2.2" fill="#1e1e1e" font-weight="normal" text-anchor="end" >90</text>
<line x1="21.5" y1="219.00" x2="22.3" y2="219.00" stroke="#777" stroke-width="0.4"/>
<text x="21.2" y="223.3" font-size="2.2" fill="#1e1e1e" font-weight="normal" text-anchor="end" >80</text>
<line x1="21.5" y1="222.50" x2="22.3" y2="222.50" stroke="#777" stroke-width="0.4"/>
<text x="21.2" y="226.8" font-size="2.2" fill="#1e1e1e" font-weight="normal" text-anchor="end" >70</text>
<line x1="21.5" y1="226.00" x2="22.3" y2="226.00" stroke="#777" stroke-width="0.4"/>
<text x="21.2" y="230.3" font-size="2.2" fill="#1e1e1e" font-weight="normal" text-anchor="end" >60</text>
<line x1="21.5" y1="229.50" x2="22.3" y2="229.50" stroke="#777" stroke-width="0.4"/>
<text x="21.2" y="233.8" font-size="2.2" fill="#1e1e1e" font-weight="normal" text-anchor="end" >50</text>
<line x1="21.5" y1="233.00" x2="22.3" y2="233.00" stroke="#777" stroke-width="0.4"/>
<text x="21.2" y="237.3" font-size="2.2" fill="#1e1e1e" font-weight="normal" text-anchor="end" >40</text>
<line x1="21.5" y1="236.50" x2="22.3" y2="236.50" stroke="#777" stroke-width="0.4"/>
<text x="21.2" y="240.8" font-size="2.2" fill="#1e1e1e" font-weight="normal" text-anchor="end" >30</text>
<line x1="21.5" y1="240.00" x2="22.3" y2="240.00" stroke="#777" stroke-width="0.4"/>
<text x="21.2" y="244.3" font-size="2.2" fill="#1e1e1e" font-weight="normal" text-anchor="end" >20</text>
<line x1="21.5" y1="243.50" x2="22.3" y2="243.50" stroke="#777" stroke-width="0.4"/>
<text x="21.2" y="247.8" font-size="2.2" fill="#1e1e1e" font-weight="normal" text-anchor="end" >10</text>
<line x1="21.5" y1="247.00" x2="22.3" y2="247.00" stroke="#777" stroke-width="0.4"/>
<text x="21.2" y="251.3" font-size="2.2" fill="#1e1e1e" font-weight="normal" text-anchor="end" >0</text>
<line x1="21.5" y1="250.50" x2="22.3" y2="250.50" stroke="#777" stroke-width="0.4"/>
<line x1="23.00" y1="258.6" x2="28.60" y2="252.0" stroke="#7a7a7a" stroke-width="0.85"/>
<line x1="27.30" y1="258.6" x2="32.90" y2="252.0" stroke="#7a7a7a" stroke-width="0.85"/>
<line x1="31.60" y1="258.6" x2="37.20" y2="252.0" stroke="#7a7a7a" stroke-width="0.85"/>
<line x1="35.90" y1="258.6" x2="41.50" y2="252.0" stroke="#7a7a7a" stroke-width="0.85"/>
<line x1="40.20" y1="258.6" x2="45.80" y2="252.0" stroke="#7a7a7a" stroke-width="0.85"/>
<line x1="44.50" y1="258.6" x2="50.10" y2="252.0" stroke="#7a7a7a" stroke-width="0.85"/>
<line x1="48.80" y1="258.6" x2="54.40" y2="252.0" stroke="#7a7a7a" stroke-width="0.85"/>
<line x1="53.10" y1="258.6" x2="58.70" y2="252.0" stroke="#7a7a7a" stroke-width="0.85"/>
<line x1="57.40" y1="258.6" x2="63.00" y2="252.0" stroke="#7a7a7a" stroke-width="0.85"/>
<line x1="61.70" y1="258.6" x2="67.30" y2="252.0" stroke="#7a7a7a" stroke-width="0.85"/>
<line x1="66.00" y1="258.6" x2="71.60" y2="252.0" stroke="#7a7a7a" stroke-width="0.85"/>
<line x1="70.30" y1="258.6" x2="75.90" y2="252.0" stroke="#7a7a7a" stroke-width="0.85"/>
<line x1="74.60" y1="258.6" x2="80.20" y2="252.0" stroke="#7a7a7a" stroke-width="0.85"/>
<line x1="78.90" y1="258.6" x2="84.50" y2="252.0" stroke="#7a7a7a" stroke-width="0.85"/>
<line x1="83.20" y1="258.6" x2="88.80" y2="252.0" stroke="#7a7a7a" stroke-width="0.85"/>
<line x1="87.50" y1="258.6" x2="93.10" y2="252.0" stroke="#7a7a7a" stroke-width="0.85"/>
<line x1="91.80" y1="258.6" x2="97.40" y2="252.0" stroke="#7a7a7a" stroke-width="0.85"/>
<line x1="96.10" y1="258.6" x2="101.70" y2="252.0" stroke="#7a7a7a" stroke-width="0.85"/>
<line x1="100.40" y1="258.6" x2="106.00" y2="252.0" stroke="#7a7a7a" stroke-width="0.85"/>
<line x1="104.70" y1="258.6" x2="110.30" y2="252.0" stroke="#7a7a7a" stroke-width="0.85"/>
<line x1="109.00" y1="258.6" x2="114.60" y2="252.0" stroke="#7a7a7a" stroke-width="0.85"/>
<circle cx="30.6" cy="208.5" r="2.0" fill="#f6e0f6" stroke="#a850b8" stroke-width="0.5"/>
<circle cx="31.5" cy="224.5" r="3.0" fill="#f4d0f4" stroke="#c080c8" stroke-width="0.5"/>
<circle cx="35.2" cy="224.5" r="3.0" fill="#f4d0f4" stroke="#c080c8" stroke-width="0.5"/>
<circle cx="47.1" cy="224.5" r="3.0" fill="#f4d0f4" stroke="#c080c8" stroke-width="0.5"/>
<circle cx="56.2" cy="224.7" r="3.2" fill="#f040a0" stroke="#b8206e" stroke-width="0.5"/>
<circle cx="63.2" cy="224.7" r="3.2" fill="#f040a0" stroke="#b8206e" stroke-width="0.5"/>
<circle cx="68.6" cy="228.8" r="3.5" fill="#f060b0" stroke="#c03a8a" stroke-width="0.5"/>
<circle cx="52.6" cy="233.2" r="4.0" fill="#e8288c" stroke="#b01e6c" stroke-width="0.5"/>
<circle cx="47.2" cy="232.6" r="4.2" fill="#e03090" stroke="#a8186a" stroke-width="0.5"/>
<circle cx="41.7" cy="233.2" r="5.0" fill="#d81c84" stroke="#a01466" stroke-width="0.5"/>
<circle cx="37.5" cy="233.6" r="5.2" fill="#d01880" stroke="#a01466" stroke-width="0.5"/>
<circle cx="32.8" cy="234.2" r="6.4" fill="#c8107a" stroke="#980c5c" stroke-width="0.5"/>
<circle cx="33.1" cy="232.6" r="3.8" fill="#f2c8f0" stroke="#d050a0" stroke-width="0.5"/>
<circle cx="62.1" cy="233.0" r="3.2" fill="#e02088" stroke="#a8186a" stroke-width="0.5"/>
<circle cx="67.8" cy="233.2" r="5.0" fill="#f050a8" stroke="#c03080" stroke-width="0.5"/>
<circle cx="57.8" cy="246.4" r="3.2" fill="#f040a0" stroke="#b82070" stroke-width="0.5"/>
<circle cx="61.8" cy="246.4" r="3.2" fill="#f040a0" stroke="#b82070" stroke-width="0.5"/>
<circle cx="50.8" cy="262.6" r="1.8" fill="#d02070" stroke="#a01050" stroke-width="0.5"/>
<circle cx="55.1" cy="262.6" r="1.8" fill="#d02070" stroke="#a01050" stroke-width="0.5"/>
<circle cx="59.5" cy="262.6" r="1.8" fill="#d02070" stroke="#a01050" stroke-width="0.5"/>
<text x="120.3" y="249.2" font-size="2.2" fill="#777" font-weight="normal" text-anchor="start" textLength="8" lengthAdjust="spacingAndGlyphs" >pH (log)</text>
<text x="120.3" y="252.2" font-size="2.2" fill="#2a3aa0" font-weight="normal" text-anchor="start" textLength="11.5" lengthAdjust="spacingAndGlyphs" >pH_prefix^1...</text>
<text x="120.3" y="255.4" font-size="2.3" fill="#111" font-weight="bold" text-anchor="start" textLength="23.5" lengthAdjust="spacingAndGlyphs" >at Associated Species</text>
<text x="120.3" y="258.4" font-size="2.2" fill="#2a3aa0" font-weight="normal" text-anchor="start" textLength="10.5" lengthAdjust="spacingAndGlyphs" >Maxo_(1:0)...</text>
<rect x="71.2" y="167.8" width="135.3" height="81.5" fill="#fdfdfe"/>
<text x="72" y="172.2" font-size="2.4" fill="#1e1e1e" font-weight="normal" text-anchor="start" textLength="11.4" lengthAdjust="spacingAndGlyphs" >Select Y axis:</text>
<rect x="85" y="169.4" width="19.7" height="3.6" rx="0.6" fill="#eeeeee" stroke="#888" stroke-width="0.3"/>
<text x="86" y="172.2" font-size="2.4" fill="#222" font-weight="normal" text-anchor="start" >pH</text>
<path d="M102.4 170.7 L104.0 170.7 L103.2 171.7 Z" fill="#333"/>
<text x="113.7" y="172.2" font-size="2.4" fill="#1e1e1e" font-weight="normal" text-anchor="start" textLength="9.4" lengthAdjust="spacingAndGlyphs" >Point size:</text>
<rect x="124.5" y="169.4" width="19" height="3.6" rx="0.6" fill="#eeeeee" stroke="#888" stroke-width="0.3"/>
<text x="125.5" y="172.2" font-size="2.4" fill="#222" font-weight="normal" text-anchor="start" >Temperature</text>
<path d="M141.2 170.7 L142.8 170.7 L142.0 171.7 Z" fill="#333"/>
<text x="156.5" y="172.2" font-size="2.4" fill="#1e1e1e" font-weight="normal" text-anchor="start" textLength="25.5" lengthAdjust="spacingAndGlyphs" >Node currently colored by:</text>
<text x="182.6" y="172.2" font-size="2.6" fill="#111" font-weight="bold" text-anchor="start" >pH</text>
<rect x="124" y="174.2" width="18" height="0.8" fill="#c8c8c8"/>
<rect x="114.6" y="176.7" width="2" height="2" fill="none" stroke="#444" stroke-width="0.3"/><rect x="118.2" y="176.7" width="2" height="2" fill="none" stroke="#444" stroke-width="0.3"/>
<text x="121.8" y="178.4" font-size="2.2" fill="#2a2a2a" font-weight="normal" text-anchor="start" textLength="18.5" lengthAdjust="spacingAndGlyphs" >Click toggle log scale</text>
<text x="82" y="185.4" font-size="2.8" fill="#111" font-weight="bold" text-anchor="start" >pH</text>
<line x1="85.7" y1="186.5" x2="85.7" y2="233" stroke="#777" stroke-width="0.6"/>
<line x1="85.7" y1="232.8" x2="178.6" y2="232.8" stroke="#777" stroke-width="0.6"/>
<text x="84.9" y="188.65" font-size="2.0" fill="#1e1e1e" font-weight="normal" text-anchor="end" >10.0</text>
<text x="84.9" y="191.1" font-size="2.0" fill="#1e1e1e" font-weight="normal" text-anchor="end" >9.6</text>
<text x="84.9" y="193.55" font-size="2.0" fill="#1e1e1e" font-weight="normal" text-anchor="end" >9.2</text>
<text x="84.9" y="196.0" font-size="2.0" fill="#1e1e1e" font-weight="normal" text-anchor="end" >8.8</text>
<text x="84.9" y="198.45" font-size="2.0" fill="#1e1e1e" font-weight="normal" text-anchor="end" >8.4</text>
<text x="84.9" y="200.9" font-size="2.0" fill="#1e1e1e" font-weight="normal" text-anchor="end" >8.0</text>
<text x="84.9" y="203.35" font-size="2.0" fill="#1e1e1e" font-weight="normal" text-anchor="end" >7.6</text>
<text x="84.9" y="205.8" font-size="2.0" fill="#1e1e1e" font-weight="normal" text-anchor="end" >7.2</text>
<text x="84.9" y="208.25" font-size="2.0" fill="#1e1e1e" font-weight="normal" text-anchor="end" >6.8</text>
<text x="84.9" y="210.7" font-size="2.0" fill="#1e1e1e" font-weight="normal" text-anchor="end" >6.4</text>
<text x="84.9" y="213.15" font-size="2.0" fill="#1e1e1e" font-weight="normal" text-anchor="end" >6.0</text>
<text x="84.9" y="215.6" font-size="2.0" fill="#1e1e1e" font-weight="normal" text-anchor="end" >5.6</text>
<text x="84.9" y="218.05" font-size="2.0" fill="#1e1e1e" font-weight="normal" text-anchor="end" >5.2</text>
<text x="84.9" y="220.5" font-size="2.0" fill="#1e1e1e" font-weight="normal" text-anchor="end" >4.8</text>
<text x="84.9" y="222.95" font-size="2.0" fill="#1e1e1e" font-weight="normal" text-anchor="end" >4.4</text>
<text x="84.9" y="225.4" font-size="2.0" fill="#1e1e1e" font-weight="normal" text-anchor="end" >4.0</text>
<text x="84.9" y="227.85" font-size="2.0" fill="#1e1e1e" font-weight="normal" text-anchor="end" >3.6</text>
<text x="84.9" y="230.3" font-size="2.0" fill="#1e1e1e" font-weight="normal" text-anchor="end" >3.2</text>
<text x="84.9" y="232.75" font-size="2.0" fill="#1e1e1e" font-weight="normal" text-anchor="end" >2.8</text>
<line x1="83.00" y1="240.8" x2="88.60" y2="234.0" stroke="#7a7a7a" stroke-width="0.85"/>
<line x1="88.45" y1="240.8" x2="94.05" y2="234.0" stroke="#7a7a7a" stroke-width="0.85"/>
<line x1="93.90" y1="240.8" x2="99.50" y2="234.0" stroke="#7a7a7a" stroke-width="0.85"/>
<line x1="99.35" y1="240.8" x2="104.95" y2="234.0" stroke="#7a7a7a" stroke-width="0.85"/>
<line x1="104.80" y1="240.8" x2="110.40" y2="234.0" stroke="#7a7a7a" stroke-width="0.85"/>
<line x1="110.25" y1="240.8" x2="115.85" y2="234.0" stroke="#7a7a7a" stroke-width="0.85"/>
<line x1="115.70" y1="240.8" x2="121.30" y2="234.0" stroke="#7a7a7a" stroke-width="0.85"/>
<line x1="121.15" y1="240.8" x2="126.75" y2="234.0" stroke="#7a7a7a" stroke-width="0.85"/>
<line x1="126.60" y1="240.8" x2="132.20" y2="234.0" stroke="#7a7a7a" stroke-width="0.85"/>
<line x1="132.05" y1="240.8" x2="137.65" y2="234.0" stroke="#7a7a7a" stroke-width="0.85"/>
<line x1="137.50" y1="240.8" x2="143.10" y2="234.0" stroke="#7a7a7a" stroke-width="0.85"/>
<line x1="142.95" y1="240.8" x2="148.55" y2="234.0" stroke="#7a7a7a" stroke-width="0.85"/>
<line x1="148.40" y1="240.8" x2="154.00" y2="234.0" stroke="#7a7a7a" stroke-width="0.85"/>
<line x1="153.85" y1="240.8" x2="159.45" y2="234.0" stroke="#7a7a7a" stroke-width="0.85"/>
<line x1="159.30" y1="240.8" x2="164.90" y2="234.0" stroke="#7a7a7a" stroke-width="0.85"/>
<line x1="164.75" y1="240.8" x2="170.35" y2="234.0" stroke="#7a7a7a" stroke-width="0.85"/>
<line x1="170.20" y1="240.8" x2="175.80" y2="234.0" stroke="#7a7a7a" stroke-width="0.85"/>
<line x1="175.65" y1="240.8" x2="181.25" y2="234.0" stroke="#7a7a7a" stroke-width="0.85"/>
<circle cx="96.2" cy="190.3" r="2.8" fill="#8c5ccc" stroke="#5a3a98" stroke-width="0.5"/>
<circle cx="98.9" cy="190.3" r="2.8" fill="#8c5ccc" stroke="#5a3a98" stroke-width="0.5"/>
<circle cx="106.6" cy="190.3" r="2.8" fill="#8c5ccc" stroke="#5a3a98" stroke-width="0.5"/>
<circle cx="128.5" cy="190.3" r="2.8" fill="#8c5ccc" stroke="#5a3a98" stroke-width="0.5"/>
<circle cx="160.2" cy="190.4" r="2.9" fill="#8c5ccc" stroke="#5a3a98" stroke-width="0.5"/>
<circle cx="168.7" cy="190.4" r="2.9" fill="#8c5ccc" stroke="#5a3a98" stroke-width="0.5"/>
<circle cx="101.9" cy="203.3" r="3.0" fill="#30d070" stroke="#1f9a50" stroke-width="0.5"/>
<circle cx="91.9" cy="215.2" r="6.0" fill="#f8b068" stroke="#e09040" stroke-width="0.5"/>
<circle cx="90.5" cy="228.5" r="3.0" fill="#5030a0" stroke="#3a2080" stroke-width="0.5"/>
<circle cx="93.5" cy="228.5" r="3.0" fill="#5a38a8" stroke="#3a2080" stroke-width="0.5"/>
<circle cx="99.6" cy="228.5" r="3.0" fill="#7040c0" stroke="#5030a0" stroke-width="0.5"/>
<circle cx="105.6" cy="228.5" r="3.0" fill="#9070d0" stroke="#6a48b0" stroke-width="0.5"/>
<circle cx="111.7" cy="228.5" r="3.0" fill="#8060c8" stroke="#6040a8" stroke-width="0.5"/>
<circle cx="128.5" cy="228.5" r="3.0" fill="#7050c0" stroke="#5030a0" stroke-width="0.5"/>
<circle cx="131.9" cy="228.5" r="3.0" fill="#8060c8" stroke="#6040a8" stroke-width="0.5"/>
<circle cx="157.5" cy="228.9" r="2.7" fill="#7050c0" stroke="#5030a0" stroke-width="0.5"/>
<circle cx="160.4" cy="228.9" r="2.7" fill="#7858c4" stroke="#5030a0" stroke-width="0.5"/>
<circle cx="91.5" cy="222.4" r="5.4" fill="#e03890" stroke="#a02070" stroke-width="0.5"/>
<circle cx="91.5" cy="222.2" r="3.6" fill="#f070b0" stroke="#c04090" stroke-width="0.5"/>
<circle cx="91.5" cy="222.2" r="2.0" fill="#e858a8" stroke="#c04090" stroke-width="0.5"/>
<circle cx="106.7" cy="221.7" r="3.0" fill="#f070c0" stroke="#c050a0" stroke-width="0.5"/>
<circle cx="113" cy="225" r="4.0" fill="#d070d8" stroke="#a050b8" stroke-width="0.5"/>
<circle cx="127.2" cy="221.7" r="3.0" fill="#f070c0" stroke="#c050a0" stroke-width="0.5"/>
<circle cx="134.2" cy="225" r="4.0" fill="#c868d8" stroke="#a050b8" stroke-width="0.5"/>
<circle cx="168.4" cy="224.6" r="4.3" fill="#c868d8" stroke="#a050b8" stroke-width="0.5"/>
<circle cx="169.1" cy="229" r="2.5" fill="#a050c0" stroke="#8040a8" stroke-width="0.5"/>
<circle cx="93.3" cy="244.6" r="2.8" fill="#f03838" stroke="#c02020" stroke-width="0.5"/>
<circle cx="101.9" cy="244.6" r="2.8" fill="#f03838" stroke="#c02020" stroke-width="0.5"/>
<circle cx="161.1" cy="244.5" r="2.8" fill="#f03838" stroke="#c02020" stroke-width="0.5"/>
<rect x="110.9" y="192.3" width="44.9" height="25.4" fill="#1a72d0"/>
<text x="113.4" y="196.5" font-size="2.6" fill="#ffffff" font-weight="normal" text-anchor="start" textLength="39.9" lengthAdjust="spacingAndGlyphs" >Start Value Original: 0.000015</text>
<text x="113.4" y="199.6" font-size="2.6" fill="#ffffff" font-weight="normal" text-anchor="start" textLength="21.9" lengthAdjust="spacingAndGlyphs" >Temperature: 25</text>
<text x="113.4" y="202.7" font-size="2.6" fill="#ffffff" font-weight="normal" text-anchor="start" textLength="8.3" lengthAdjust="spacingAndGlyphs" >pH: 10</text>
<text x="113.4" y="205.8" font-size="2.6" fill="#ffffff" font-weight="normal" text-anchor="start" textLength="20.3" lengthAdjust="spacingAndGlyphs" >EntryID: 12830</text>
<text x="113.4" y="208.9" font-size="2.6" fill="#ffffff" font-weight="normal" text-anchor="start" textLength="12.0" lengthAdjust="spacingAndGlyphs" >Type: Kiti</text>
<text x="113.4" y="212.0" font-size="2.6" fill="#ffffff" font-weight="normal" text-anchor="start" textLength="34.3" lengthAdjust="spacingAndGlyphs" >Associated Species: NaOH</text>
<text x="113.4" y="215.1" font-size="2.6" fill="#ffffff" font-weight="normal" text-anchor="start" textLength="9.5" lengthAdjust="spacingAndGlyphs" >Unit: M</text>
<text x="181" y="185.3" font-size="2.4" fill="#222" font-weight="normal" text-anchor="start" >Zoom: 1</text>
<rect x="180.8" y="186.3" width="14.8" height="3.8" rx="0.6" fill="#e6e6e6" stroke="#999" stroke-width="0.3"/>
<text x="182" y="189.0" font-size="2.3" fill="#222" font-weight="normal" text-anchor="start" >Reset position</text>
<text x="181.2" y="224.9" font-size="2.3" fill="#111" font-weight="bold" text-anchor="start" textLength="22.5" lengthAdjust="spacingAndGlyphs" >Email Sheet for Types</text>
<text x="181.2" y="227.8" font-size="2.3" fill="#2a3aa0" font-weight="normal" text-anchor="start" textLength="9.5" lengthAdjust="spacingAndGlyphs" >Key_Enzi...</text>
<text x="181.2" y="231.0" font-size="2.3" fill="#111" font-weight="bold" text-anchor="start" textLength="10.5" lengthAdjust="spacingAndGlyphs" >pH (prefix)</text>
<text x="181.2" y="233.6" font-size="2.3" fill="#2a3aa0" font-weight="normal" text-anchor="start" textLength="13.5" lengthAdjust="spacingAndGlyphs" >pH_prefix^1...</text>
<text x="181.2" y="237.2" font-size="2.3" fill="#111" font-weight="bold" text-anchor="start" textLength="22.8" lengthAdjust="spacingAndGlyphs" >at Associated Species</text>
<text x="181.2" y="240.1" font-size="2.3" fill="#2a3aa0" font-weight="normal" text-anchor="start" textLength="12.5" lengthAdjust="spacingAndGlyphs" >Maxo_(1:0)...</text>
<text x="120.5" y="249.3" font-size="2" fill="#222" font-weight="normal" text-anchor="start" ></text>
<rect x="216.8" y="193" width="146" height="73.2" fill="#fdfdfe"/>
<text x="228.5" y="197.6" font-size="3.0" fill="#111" font-weight="bold" text-anchor="middle" stroke="#111" stroke-width="0.15" textLength="9.5" lengthAdjust="spacingAndGlyphs" >EntryID</text>
<text x="260.5" y="197.6" font-size="3.0" fill="#111" font-weight="bold" text-anchor="middle" stroke="#111" stroke-width="0.15" >Type</text>
<text x="292.2" y="196.9" font-size="2.4" fill="#111" font-weight="bold" text-anchor="middle" stroke="#111" stroke-width="0.12" >Associated</text>
<text x="292.2" y="199.4" font-size="2.4" fill="#111" font-weight="bold" text-anchor="middle" stroke="#111" stroke-width="0.12" >Species</text>
<text x="324.2" y="196.9" font-size="2.3" fill="#111" font-weight="bold" text-anchor="middle" stroke="#111" stroke-width="0.12" >Start</text>
<text x="324.2" y="199.2" font-size="2.3" fill="#111" font-weight="bold" text-anchor="middle" stroke="#111" stroke-width="0.12" >Value</text>
<text x="324.2" y="201.6" font-size="2.3" fill="#111" font-weight="bold" text-anchor="middle" stroke="#111" stroke-width="0.12" >Original</text>
<text x="356.1" y="197.6" font-size="3.0" fill="#111" font-weight="bold" text-anchor="middle" stroke="#111" stroke-width="0.15" >Unit</text>
<polyline points="228.8,205.5 260.2,205.5 291.1,258.0 324.2,263.6 356.1,263.8" fill="none" stroke="#e070b0" stroke-width="0.59" stroke-opacity="0.9"/>
<polyline points="228.8,205.5 260.2,263.8 291.1,240.0 324.2,263.6 356.1,263.8" fill="none" stroke="#d04890" stroke-width="0.59" stroke-opacity="0.9"/>
<polyline points="228.8,213.0 260.2,205.5 291.1,207.0 324.2,210.0 356.1,263.8" fill="none" stroke="#f2b4d6" stroke-width="0.42" stroke-opacity="0.9"/>
<polyline points="228.8,228.0 260.2,205.5 291.1,214.0 324.2,222.0 356.1,263.8" fill="none" stroke="#f4c4de" stroke-width="0.42" stroke-opacity="0.9"/>
<polyline points="228.8,241.0 260.2,263.8 291.1,230.0 324.2,263.6 356.1,263.8" fill="none" stroke="#a05070" stroke-width="0.59" stroke-opacity="0.9"/>
<polyline points="228.8,247.0 260.2,205.5 291.1,262.0 324.2,263.6 356.1,205.7" fill="none" stroke="#5a3ab0" stroke-width="0.77" stroke-opacity="0.9"/>
<polyline points="228.8,249.8 260.2,263.8 291.1,250.0 324.2,263.6 356.1,263.8" fill="none" stroke="#5040b0" stroke-width="0.51" stroke-opacity="0.9"/>
<polyline points="228.8,250.5 260.2,263.8 291.1,220.0 324.2,263.6 356.1,263.8" fill="none" stroke="#7050c0" stroke-width="0.51" stroke-opacity="0.9"/>
<polyline points="228.8,252.0 260.2,263.8 291.1,255.0 324.2,263.6 356.1,205.7" fill="none" stroke="#6a48c0" stroke-width="0.59" stroke-opacity="0.9"/>
<polyline points="228.8,257.0 260.2,263.8 291.1,235.0 324.2,263.6 356.1,236.7" fill="none" stroke="#f0a0d0" stroke-width="0.42" stroke-opacity="0.9"/>
<polyline points="228.8,259.3 260.2,263.8 291.1,245.0 324.2,263.6 356.1,263.8" fill="none" stroke="#e070b0" stroke-width="0.51" stroke-opacity="0.9"/>
<polyline points="228.8,262.0 260.2,263.8 291.1,208.0 324.2,206.0 356.1,263.8" fill="none" stroke="#9a5ab8" stroke-width="0.51" stroke-opacity="0.9"/>
<polyline points="228.8,263.2 260.2,263.8 291.1,211.0 324.2,222.0 356.1,263.8" fill="none" stroke="#d8a8e0" stroke-width="0.34" stroke-opacity="0.9"/>
<polyline points="228.8,262.8 260.2,263.8 291.1,216.0 324.2,232.0 356.1,263.8" fill="none" stroke="#e0b0e0" stroke-width="0.34" stroke-opacity="0.9"/>
<polyline points="228.8,263.5 260.2,263.8 291.1,224.0 324.2,263.6 356.1,263.8" fill="none" stroke="#c8a0d8" stroke-width="0.34" stroke-opacity="0.9"/>
<polyline points="228.8,263.0 260.2,263.8 291.1,232.0 324.2,263.6 356.1,263.8" fill="none" stroke="#c080d0" stroke-width="0.34" stroke-opacity="0.9"/>
<polyline points="228.8,262.5 260.2,263.8 291.1,238.0 324.2,263.6 356.1,263.8" fill="none" stroke="#e090c8" stroke-width="0.34" stroke-opacity="0.9"/>
<polyline points="228.8,250.0 260.2,263.8 291.1,222.0 324.2,263.6 356.1,263.8" fill="none" stroke="#60a8a0" stroke-width="0.38" stroke-opacity="0.9"/>
<polyline points="228.8,263.4 260.2,263.8 291.1,248.0 324.2,263.6 356.1,263.8" fill="none" stroke="#70a8a8" stroke-width="0.34" stroke-opacity="0.9"/>
<polyline points="228.8,248.0 260.2,263.8 291.1,252.0 324.2,263.6 356.1,236.7" fill="none" stroke="#f080c0" stroke-width="0.42" stroke-opacity="0.9"/>
<polyline points="228.8,260.0 260.2,263.8 291.1,258.0 324.2,263.6 356.1,263.8" fill="none" stroke="#d070b8" stroke-width="0.42" stroke-opacity="0.9"/>
<polyline points="228.8,263.6 260.2,263.8 291.1,228.0 324.2,226.0 356.1,263.8" fill="none" stroke="#e6b8e4" stroke-width="0.34" stroke-opacity="0.9"/>
<polyline points="228.8,263.1 260.2,263.8 291.1,206.0 324.2,210.0 356.1,263.8" fill="none" stroke="#eab0da" stroke-width="0.34" stroke-opacity="0.9"/>
<polyline points="228.8,262.9 260.2,263.8 291.1,210.0 324.2,263.6 356.1,263.8" fill="none" stroke="#9a70c8" stroke-width="0.34" stroke-opacity="0.9"/>
<polyline points="228.8,263.3 260.2,263.8 291.1,218.0 324.2,263.6 356.1,263.8" fill="none" stroke="#f0b0d8" stroke-width="0.34" stroke-opacity="0.9"/>
<polyline points="228.8,262.5 260.2,263.8 291.1,226.0 324.2,229.0 356.1,263.8" fill="none" stroke="#f4c8e0" stroke-width="0.34" stroke-opacity="0.9"/>
<polyline points="228.8,258.0 260.2,263.8 291.1,234.0 324.2,263.6 356.1,205.7" fill="none" stroke="#9a5ab8" stroke-width="0.51" stroke-opacity="0.9"/>
<polyline points="228.8,263.0 260.2,263.8 291.1,243.0 324.2,263.6 356.1,263.8" fill="none" stroke="#b890d8" stroke-width="0.34" stroke-opacity="0.9"/>
<polyline points="228.8,263.5 260.2,263.8 291.1,262.0 324.2,263.6 356.1,263.8" fill="none" stroke="#5a3ab0" stroke-width="0.51" stroke-opacity="0.9"/>
<polyline points="228.8,263.6 260.2,263.8 291.1,213.0 324.2,216.0 356.1,263.8" fill="none" stroke="#f0c0e0" stroke-width="0.34" stroke-opacity="0.9"/>
<line x1="228.8" y1="205.5" x2="228.8" y2="263.9" stroke="#777" stroke-width="0.5"/>
<line x1="260.2" y1="205.5" x2="260.2" y2="263.9" stroke="#777" stroke-width="0.5"/>
<line x1="291.1" y1="205.5" x2="291.1" y2="263.9" stroke="#777" stroke-width="0.5"/>
<line x1="324.2" y1="205.5" x2="324.2" y2="263.9" stroke="#777" stroke-width="0.5"/>
<line x1="356.1" y1="205.5" x2="356.1" y2="263.9" stroke="#777" stroke-width="0.5"/>
<text x="227.6" y="211.65" font-size="2.6" fill="#111" font-weight="bold" text-anchor="end" stroke="#111" stroke-width="0.1" textLength="7.2" lengthAdjust="spacingAndGlyphs" >60000</text>
<text x="227.6" y="223.15" font-size="2.6" fill="#111" font-weight="bold" text-anchor="end" stroke="#111" stroke-width="0.1" textLength="7.2" lengthAdjust="spacingAndGlyphs" >50000</text>
<text x="227.6" y="234.35" font-size="2.6" fill="#111" font-weight="bold" text-anchor="end" stroke="#111" stroke-width="0.1" textLength="7.2" lengthAdjust="spacingAndGlyphs" >40000</text>
<text x="227.6" y="245.85" font-size="2.6" fill="#111" font-weight="bold" text-anchor="end" stroke="#111" stroke-width="0.1" textLength="7.2" lengthAdjust="spacingAndGlyphs" >30000</text>
<text x="227.6" y="257.15" font-size="2.6" fill="#111" font-weight="bold" text-anchor="end" stroke="#111" stroke-width="0.1" textLength="7.2" lengthAdjust="spacingAndGlyphs" >20000</text>
<text x="259.3" y="206.4" font-size="2.4" fill="#111" font-weight="normal" text-anchor="end" textLength="8" lengthAdjust="spacingAndGlyphs" >Inhibitor</text>
<text x="259.3" y="264.6" font-size="2.2" fill="#222" font-weight="normal" text-anchor="end" >Ac</text>
<text x="290.4" y="206.95" font-size="2.2" fill="#404040" font-weight="normal" text-anchor="end" textLength="13.0" lengthAdjust="spacingAndGlyphs" >ip.Referenz</text>
<text x="290.4" y="208.93" font-size="2.2" fill="#404040" font-weight="normal" text-anchor="end" textLength="13.0" lengthAdjust="spacingAndGlyphs" >Chiral</text>
<text x="290.4" y="210.91" font-size="2.2" fill="#404040" font-weight="normal" text-anchor="end" textLength="13.0" lengthAdjust="spacingAndGlyphs" >Eutectic</text>
<text x="290.4" y="212.89" font-size="2.2" fill="#404040" font-weight="normal" text-anchor="end" textLength="13.0" lengthAdjust="spacingAndGlyphs" >Ethanol</text>
<text x="290.4" y="214.87" font-size="2.2" fill="#404040" font-weight="normal" text-anchor="end" textLength="13.0" lengthAdjust="spacingAndGlyphs" >Glycerol</text>
<text x="290.4" y="216.85" font-size="2.2" fill="#404040" font-weight="normal" text-anchor="end" textLength="13.0" lengthAdjust="spacingAndGlyphs" >Methanol</text>
<text x="290.4" y="218.83" font-size="2.2" fill="#404040" font-weight="normal" text-anchor="end" textLength="13.0" lengthAdjust="spacingAndGlyphs" >Ni(CH2)</text>
<text x="290.4" y="220.81" font-size="2.2" fill="#404040" font-weight="normal" text-anchor="end" textLength="13.0" lengthAdjust="spacingAndGlyphs" >NaCl</text>
<text x="290.4" y="222.79" font-size="2.2" fill="#404040" font-weight="normal" text-anchor="end" textLength="13.0" lengthAdjust="spacingAndGlyphs" >KCl</text>
<text x="290.4" y="224.77" font-size="2.2" fill="#404040" font-weight="normal" text-anchor="end" textLength="13.0" lengthAdjust="spacingAndGlyphs" >MgCl2</text>
<text x="290.4" y="226.75" font-size="2.2" fill="#404040" font-weight="normal" text-anchor="end" textLength="13.0" lengthAdjust="spacingAndGlyphs" >Tris</text>
<text x="290.4" y="228.73" font-size="2.2" fill="#404040" font-weight="normal" text-anchor="end" textLength="13.0" lengthAdjust="spacingAndGlyphs" >HEPES</text>
<text x="290.4" y="230.71" font-size="2.2" fill="#404040" font-weight="normal" text-anchor="end" textLength="13.0" lengthAdjust="spacingAndGlyphs" >MOPS</text>
<text x="290.4" y="232.69" font-size="2.2" fill="#404040" font-weight="normal" text-anchor="end" textLength="13.0" lengthAdjust="spacingAndGlyphs" >PBS</text>
<text x="290.4" y="234.67" font-size="2.2" fill="#404040" font-weight="normal" text-anchor="end" textLength="13.0" lengthAdjust="spacingAndGlyphs" >Citrate</text>
<text x="290.4" y="236.65" font-size="2.2" fill="#404040" font-weight="normal" text-anchor="end" textLength="13.0" lengthAdjust="spacingAndGlyphs" >Acetate</text>
<text x="290.4" y="238.63" font-size="2.2" fill="#404040" font-weight="normal" text-anchor="end" textLength="13.0" lengthAdjust="spacingAndGlyphs" >Borate</text>
<text x="290.4" y="240.61" font-size="2.2" fill="#404040" font-weight="normal" text-anchor="end" textLength="13.0" lengthAdjust="spacingAndGlyphs" >Phosphate</text>
<text x="290.4" y="242.59" font-size="2.2" fill="#404040" font-weight="normal" text-anchor="end" textLength="13.0" lengthAdjust="spacingAndGlyphs" >Glycine</text>
<text x="290.4" y="244.57" font-size="2.2" fill="#404040" font-weight="normal" text-anchor="end" textLength="13.0" lengthAdjust="spacingAndGlyphs" >Sucrose</text>
<text x="290.4" y="246.55" font-size="2.2" fill="#404040" font-weight="normal" text-anchor="end" textLength="13.0" lengthAdjust="spacingAndGlyphs" >Urea</text>
<text x="290.4" y="248.53" font-size="2.2" fill="#404040" font-weight="normal" text-anchor="end" textLength="13.0" lengthAdjust="spacingAndGlyphs" >DMSO</text>
<text x="290.4" y="250.51" font-size="2.2" fill="#404040" font-weight="normal" text-anchor="end" textLength="13.0" lengthAdjust="spacingAndGlyphs" >EDTA</text>
<text x="290.4" y="252.49" font-size="2.2" fill="#404040" font-weight="normal" text-anchor="end" textLength="13.0" lengthAdjust="spacingAndGlyphs" >DTT</text>
<text x="290.4" y="254.47" font-size="2.2" fill="#404040" font-weight="normal" text-anchor="end" textLength="13.0" lengthAdjust="spacingAndGlyphs" >NaOH</text>
<text x="290.4" y="256.45" font-size="2.2" fill="#404040" font-weight="normal" text-anchor="end" textLength="13.0" lengthAdjust="spacingAndGlyphs" >HCl</text>
<text x="290.4" y="258.43" font-size="2.2" fill="#404040" font-weight="normal" text-anchor="end" textLength="13.0" lengthAdjust="spacingAndGlyphs" >KOH</text>
<text x="290.4" y="260.41" font-size="2.2" fill="#404040" font-weight="normal" text-anchor="end" textLength="13.0" lengthAdjust="spacingAndGlyphs" >NH4Cl</text>
<text x="290.4" y="262.39" font-size="2.2" fill="#404040" font-weight="normal" text-anchor="end" textLength="13.0" lengthAdjust="spacingAndGlyphs" >CaCl2</text>
<text x="290.4" y="264.37" font-size="2.2" fill="#404040" font-weight="normal" text-anchor="end" textLength="13.0" lengthAdjust="spacingAndGlyphs" >ZnSO4</text>
<text x="323.3" y="210.85" font-size="2.6" fill="#111" font-weight="bold" text-anchor="end" stroke="#111" stroke-width="0.1" textLength="9.4" lengthAdjust="spacingAndGlyphs" >2.25E-5</text>
<text x="323.3" y="221.65" font-size="2.6" fill="#111" font-weight="bold" text-anchor="end" stroke="#111" stroke-width="0.1" textLength="9.4" lengthAdjust="spacingAndGlyphs" >2.00E-5</text>
<text x="323.3" y="232.45" font-size="2.6" fill="#111" font-weight="bold" text-anchor="end" stroke="#111" stroke-width="0.1" textLength="9.4" lengthAdjust="spacingAndGlyphs" >1.75E-5</text>
<text x="323.3" y="243.35" font-size="2.6" fill="#111" font-weight="bold" text-anchor="end" stroke="#111" stroke-width="0.1" textLength="9.4" lengthAdjust="spacingAndGlyphs" >1.50E-5</text>
<text x="323.3" y="254.75" font-size="2.6" fill="#111" font-weight="bold" text-anchor="end" stroke="#111" stroke-width="0.1" textLength="9.4" lengthAdjust="spacingAndGlyphs" >1.25E-5</text>
<text x="323.3" y="264.85" font-size="2.6" fill="#111" font-weight="bold" text-anchor="end" stroke="#111" stroke-width="0.1" textLength="9.4" lengthAdjust="spacingAndGlyphs" >0.00E+0</text>
<text x="355.2" y="206.2" font-size="2.4" fill="#111" font-weight="normal" text-anchor="end" textLength="11" lengthAdjust="spacingAndGlyphs" >mol*L^-1...</text>
<text x="355.2" y="235.4" font-size="2.4" fill="#111" font-weight="normal" text-anchor="end" textLength="11" lengthAdjust="spacingAndGlyphs" >M*L^-1(...)</text>
</svg></body></html>
